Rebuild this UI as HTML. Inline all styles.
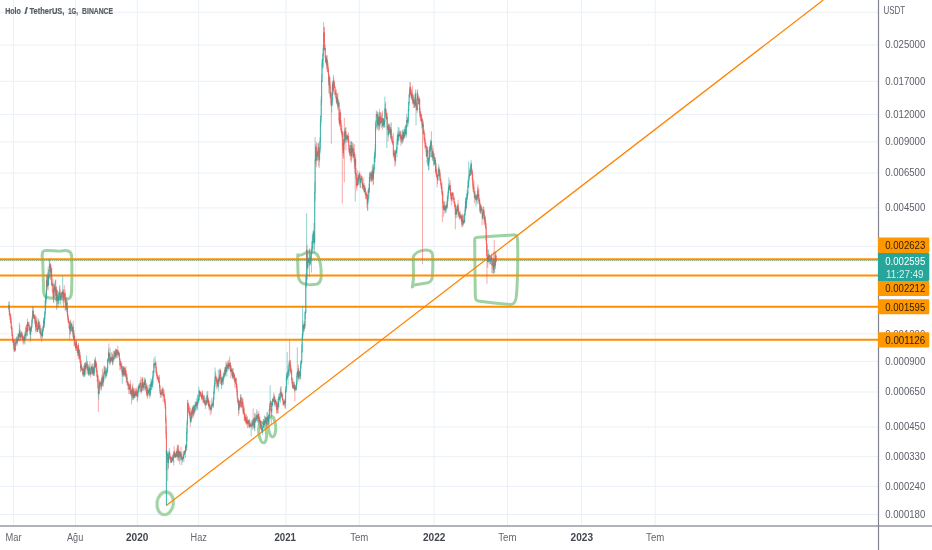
<!DOCTYPE html>
<html><head><meta charset="utf-8"><title>Holo / TetherUS</title>
<style>html,body{margin:0;padding:0;background:#fff;overflow:hidden}svg{display:block}</style>
</head><body>
<svg width="932" height="550" viewBox="0 0 932 550">
<rect width="932" height="550" fill="#fff"/>
<path d="M0 12.3H878.5M0 45H878.5M0 81.3H878.5M0 114.4H878.5M0 141.9H878.5M0 173H878.5M0 207.9H878.5M0 246.4H878.5M0 333.8H878.5M0 361.4H878.5M0 392H878.5M0 427H878.5M0 456.7H878.5M0 486.4H878.5M0 514.5H878.5M13.6 0V525.9M75.5 0V525.9M137.3 0V525.9M198.7 0V525.9M286 0V525.9M359.3 0V525.9M434.1 0V525.9M507.5 0V525.9M581.6 0V525.9M655.2 0V525.9" stroke="#eaf1f6" stroke-width="1" fill="none"/>
<g fill="none" stroke="#92cc96" stroke-width="3.0" stroke-linecap="round" stroke-linejoin="round" opacity="0.88">
<path d="M42.6 260 C41.5 254 42 250.6 46 250.6 C52 250.2 56 251.6 61 251 C66 250.2 71.5 250 71.6 256 C72 268 72 282 71.5 292 C71.4 298 69 299.6 65 299.3 C58 298.8 52 298.6 47.5 297.5 C43.5 296.8 43.6 293 43.5 288 C43.3 278 43 268 42.6 260Z"/>
<path d="M297.8 254.8 C300 256.2 303 254.5 306 252.8 C310 251.6 315 251.8 317.5 255 C320.5 260 321.3 268 321.2 276 C321.2 282 319 284.6 314 284.6 C309 284.8 305 284.6 302.5 283.2 C298.5 281.4 298 277 298 272 C297.8 266 297.6 260 297.8 254.8Z"/>
<path d="M413.2 257 C414.5 253.5 419 250.6 424 250.2 C428 249.8 432 250.6 432.6 255 C433 262 432.8 270 432.4 276 C432.2 280 431 282 428 282.8 C423 283.8 418 284.4 414 285 L412.2 287 C413.2 283 413.6 278 413.5 272 C413.4 266 413.2 261 413.2 257Z"/>
<path d="M474.7 240 C474.4 238 475.5 237.6 478 237.3 C490 236.6 503 235.6 513 234.9 C516.5 234.6 517.4 236 517.6 240 C518 256 517.8 276 516.6 294 C516.2 300 515 304.6 511 304.6 C500 303.6 488 302.2 478 301 C475.6 300.7 475.4 299 475.3 296 C475 278 474.8 258 474.7 240Z"/>
<ellipse cx="165.2" cy="503.3" rx="8.2" ry="11.4" stroke-width="3.1" transform="rotate(8 165.2 503.3)"/>
<ellipse cx="262.6" cy="432.6" rx="3.9" ry="10.3" transform="rotate(-6 262.6 432.6)"/>
<ellipse cx="272" cy="426.6" rx="3.7" ry="10.3" transform="rotate(-4 272 426.6)"/>
</g>
<path d="M0 275.6H878.5M0 306.8H878.5M0 339.7H878.5" stroke="#ff8e00" stroke-width="2.0" fill="none"/>
<path d="M0 259.3H878.5" stroke="#ff8e00" stroke-width="2.3" fill="none"/>
<path d="M166.3 505.5L823.3 0" stroke="#ff8400" stroke-width="1.25" fill="none"/>
<path d="M0 260.55H878.5" stroke="#26a69a" stroke-width="0.9" stroke-dasharray="1 1" opacity="0.55" fill="none"/>
<g fill="none">
<path d="M8.8 302V309.71" stroke="#26a69a" stroke-width="0.5"/>
<path d="M8.8 304.96V308.96" stroke="#26a69a" stroke-width="0.75"/>
<path d="M9.21 301.05V315.85M9.61 309.72V315.39M10.02 312.76V319.98M10.42 315.71V322.72M10.83 314.06V323.64M11.23 318.63V329.04M11.64 324.54V332.48M12.04 326.53V336.59M12.45 332.51V339.75M12.85 335.05V342.1M13.26 339.65V346.1" stroke="#ef5350" stroke-width="0.5"/>
<path d="M9.21 304.96V311.94M9.61 310.94V314.76M10.02 313.76V317.47M10.42 316.47V318.65M10.83 317.65V322.63M11.23 321.63V327.88M11.64 326.88V329.16M12.04 328.16V335.67M12.45 334.67V339.24M12.85 338.24V341.81M13.26 340.81V343.18" stroke="#ef5350" stroke-width="0.75"/>
<path d="M13.66 339.76V349.53" stroke="#26a69a" stroke-width="0.5"/>
<path d="M13.66 340.11V343.18" stroke="#26a69a" stroke-width="0.75"/>
<path d="M14.07 339.16V351.93M14.47 343.11V351.58M14.88 346.65V352.14" stroke="#ef5350" stroke-width="0.5"/>
<path d="M14.07 340.11V348.22M14.47 347.22V349.3M14.88 348.3V350.43" stroke="#ef5350" stroke-width="0.75"/>
<path d="M15.28 341.4V350.99M15.69 340.75V346.2" stroke="#26a69a" stroke-width="0.5"/>
<path d="M15.28 343.19V350.43M15.69 341.44V344.19" stroke="#26a69a" stroke-width="0.75"/>
<path d="M16.09 337.56V346.26" stroke="#ef5350" stroke-width="0.5"/>
<path d="M16.09 341.44V342.59" stroke="#ef5350" stroke-width="0.75"/>
<path d="M16.5 336.48V343.38" stroke="#26a69a" stroke-width="0.5"/>
<path d="M16.5 340.83V342.59" stroke="#26a69a" stroke-width="0.75"/>
<path d="M16.9 339.64V343.71" stroke="#ef5350" stroke-width="0.5"/>
<path d="M16.9 340.83V341.94" stroke="#ef5350" stroke-width="0.75"/>
<path d="M17.31 336.59V345.71M17.71 338.26V343.13M18.12 333.3V340.93" stroke="#26a69a" stroke-width="0.5"/>
<path d="M17.31 338.79V341.94M17.71 338.58V339.79M18.12 334.74V339.58" stroke="#26a69a" stroke-width="0.75"/>
<path d="M18.52 333.41V341.13" stroke="#ef5350" stroke-width="0.5"/>
<path d="M18.52 334.74V336.33" stroke="#ef5350" stroke-width="0.75"/>
<path d="M18.93 334.14V338.57M19.34 322.8V336.95" stroke="#26a69a" stroke-width="0.5"/>
<path d="M18.93 334.11V336.33M19.34 330.66V335.11" stroke="#26a69a" stroke-width="0.75"/>
<path d="M19.74 325.2V341.54" stroke="#ef5350" stroke-width="0.5"/>
<path d="M19.74 330.66V337.19" stroke="#ef5350" stroke-width="0.75"/>
<path d="M20.15 329.42V337.64" stroke="#26a69a" stroke-width="0.5"/>
<path d="M20.15 334.28V337.19" stroke="#26a69a" stroke-width="0.75"/>
<path d="M20.55 333.16V340.67" stroke="#ef5350" stroke-width="0.5"/>
<path d="M20.55 334.28V337.16" stroke="#ef5350" stroke-width="0.75"/>
<path d="M20.96 332.27V337.94" stroke="#26a69a" stroke-width="0.5"/>
<path d="M20.96 332.88V337.16" stroke="#26a69a" stroke-width="0.75"/>
<path d="M21.36 331.92V337.09M21.77 331.03V338.81M22.17 332.56V338.78M22.58 334.37V340.72M22.98 338.15V343.53" stroke="#ef5350" stroke-width="0.5"/>
<path d="M21.36 332.88V334.27M21.77 333.27V335.91M22.17 334.91V337.22M22.58 336.22V339.58M22.98 338.58V339.59" stroke="#ef5350" stroke-width="0.75"/>
<path d="M23.39 336.22V341.77M23.79 335.53V344.7M24.2 335.99V340.01" stroke="#26a69a" stroke-width="0.5"/>
<path d="M23.39 337.93V339.59M23.79 337.68V338.93M24.2 337.23V338.68" stroke="#26a69a" stroke-width="0.75"/>
<path d="M24.6 335.13V342.62" stroke="#ef5350" stroke-width="0.5"/>
<path d="M24.6 337.23V340.49" stroke="#ef5350" stroke-width="0.75"/>
<path d="M25.01 331.53V344.32" stroke="#26a69a" stroke-width="0.5"/>
<path d="M25.01 333.82V340.49" stroke="#26a69a" stroke-width="0.75"/>
<path d="M25.41 326.71V335.98" stroke="#ef5350" stroke-width="0.5"/>
<path d="M25.41 333.82V335.63" stroke="#ef5350" stroke-width="0.75"/>
<path d="M25.82 331.11V339.53M26.22 324.95V337.28" stroke="#26a69a" stroke-width="0.5"/>
<path d="M25.82 333.61V335.63M26.22 328.18V334.61" stroke="#26a69a" stroke-width="0.75"/>
<path d="M26.63 324.26V331.16M27.03 324.49V335.35" stroke="#ef5350" stroke-width="0.5"/>
<path d="M26.63 328.18V330.89M27.03 329.89V331.91" stroke="#ef5350" stroke-width="0.75"/>
<path d="M27.44 318.73V336.26" stroke="#26a69a" stroke-width="0.5"/>
<path d="M27.44 322.31V331.91" stroke="#26a69a" stroke-width="0.75"/>
<path d="M27.84 321.84V325.93M28.25 321.59V326.04" stroke="#ef5350" stroke-width="0.5"/>
<path d="M27.84 322.31V325.25M28.25 324.25V325.91" stroke="#ef5350" stroke-width="0.75"/>
<path d="M28.65 323.7V327.43" stroke="#26a69a" stroke-width="0.5"/>
<path d="M28.65 324.78V325.91" stroke="#26a69a" stroke-width="0.75"/>
<path d="M29.06 321.72V331.57M29.47 327.64V331.07" stroke="#ef5350" stroke-width="0.5"/>
<path d="M29.06 324.78V329.89M29.47 328.89V330.07" stroke="#ef5350" stroke-width="0.75"/>
<path d="M29.87 326.14V333.62" stroke="#26a69a" stroke-width="0.5"/>
<path d="M29.87 327.49V330.07" stroke="#26a69a" stroke-width="0.75"/>
<path d="M30.28 326.2V342.12" stroke="#ef5350" stroke-width="0.5"/>
<path d="M30.28 327.49V334.66" stroke="#ef5350" stroke-width="0.75"/>
<path d="M30.68 328.29V339.16M31.09 326.36V331.86M31.49 324.61V330.54M31.9 319.09V328.18M32.3 316.38V323.57M32.71 306.62V319.71" stroke="#26a69a" stroke-width="0.5"/>
<path d="M30.68 330.47V334.66M31.09 327.92V331.47M31.49 325.83V328.92M31.9 320.44V326.83M32.3 316.8V321.44M32.71 310.69V317.8" stroke="#26a69a" stroke-width="0.75"/>
<path d="M33.11 306.06V319.03" stroke="#ef5350" stroke-width="0.5"/>
<path d="M33.11 310.69V316.19" stroke="#ef5350" stroke-width="0.75"/>
<path d="M33.52 310.42V318.8" stroke="#26a69a" stroke-width="0.5"/>
<path d="M33.52 314.18V316.19" stroke="#26a69a" stroke-width="0.75"/>
<path d="M33.92 314.06V317.58" stroke="#ef5350" stroke-width="0.5"/>
<path d="M33.92 314.18V317.07" stroke="#ef5350" stroke-width="0.75"/>
<path d="M34.33 314.98V318.58" stroke="#26a69a" stroke-width="0.5"/>
<path d="M34.33 315.93V317.07" stroke="#26a69a" stroke-width="0.75"/>
<path d="M34.73 315.49V323.62M35.14 314.28V324.62M35.54 316.47V330.86" stroke="#ef5350" stroke-width="0.5"/>
<path d="M34.73 315.93V319.11M35.14 318.11V321.65M35.54 320.65V327.12" stroke="#ef5350" stroke-width="0.75"/>
<path d="M35.95 319.55V332.67" stroke="#26a69a" stroke-width="0.5"/>
<path d="M35.95 320.79V327.12" stroke="#26a69a" stroke-width="0.75"/>
<path d="M36.35 316.38V325.79M36.76 321.61V330.23M37.16 327.62V331.81" stroke="#ef5350" stroke-width="0.5"/>
<path d="M36.35 320.79V324.63M36.76 323.63V329.57M37.16 328.57V331.9" stroke="#ef5350" stroke-width="0.75"/>
<path d="M37.57 325.7V332.22M37.97 318V330.5M38.38 319.43V328.86" stroke="#26a69a" stroke-width="0.5"/>
<path d="M37.57 328.88V331.9M37.97 323.47V329.88M38.38 321.97V324.47" stroke="#26a69a" stroke-width="0.75"/>
<path d="M38.78 320.39V329.61" stroke="#ef5350" stroke-width="0.5"/>
<path d="M38.78 321.97V328.81" stroke="#ef5350" stroke-width="0.75"/>
<path d="M39.19 321.52V329.73" stroke="#26a69a" stroke-width="0.5"/>
<path d="M39.19 325.31V328.81" stroke="#26a69a" stroke-width="0.75"/>
<path d="M39.6 321.79V332.98M40 324.28V333.26M40.41 328.54V338.5" stroke="#ef5350" stroke-width="0.5"/>
<path d="M39.6 325.31V326.48M40 325.48V332.3M40.41 331.3V333.98" stroke="#ef5350" stroke-width="0.75"/>
<path d="M40.81 328.02V334.57" stroke="#26a69a" stroke-width="0.5"/>
<path d="M40.81 332.42V333.98" stroke="#26a69a" stroke-width="0.75"/>
<path d="M41.22 329.32V336.52M41.62 332.85V342M42.03 327.62V336.38" stroke="#ef5350" stroke-width="0.5"/>
<path d="M41.22 332.42V335.02M41.62 334.02V335.81M42.03 334.81V336.22" stroke="#ef5350" stroke-width="0.75"/>
<path d="M42.43 329.95V338.55M42.84 325.96V335.81M43.24 324.57V332.06M43.65 317.73V328.6" stroke="#26a69a" stroke-width="0.5"/>
<path d="M42.43 331.14V336.22M42.84 328.91V332.14M43.24 326.94V329.91M43.65 320.47V327.94" stroke="#26a69a" stroke-width="0.75"/>
<path d="M44.05 317.63V327.95" stroke="#ef5350" stroke-width="0.5"/>
<path d="M44.05 320.47V323.86" stroke="#ef5350" stroke-width="0.75"/>
<path d="M44.46 314.3V326.83M44.86 310.9V320.63M45.27 299.96V314.96M45.67 295.51V310.25M46.08 290.79V304.46M46.48 274.8V300.06" stroke="#26a69a" stroke-width="0.5"/>
<path d="M44.46 317.64V323.86M44.86 312.21V318.64M45.27 300.34V313.21M45.67 297.11V301.34M46.08 294.06V298.11M46.48 280.31V295.06" stroke="#26a69a" stroke-width="0.75"/>
<path d="M46.89 274.54V291.26M47.29 280.69V286.66" stroke="#ef5350" stroke-width="0.5"/>
<path d="M46.89 280.31V283.83M47.29 282.83V286.1" stroke="#ef5350" stroke-width="0.75"/>
<path d="M47.7 272.56V288.74" stroke="#26a69a" stroke-width="0.5"/>
<path d="M47.7 276.23V286.1" stroke="#26a69a" stroke-width="0.75"/>
<path d="M48.1 266.93V290.65" stroke="#ef5350" stroke-width="0.5"/>
<path d="M48.1 276.23V284.91" stroke="#ef5350" stroke-width="0.75"/>
<path d="M48.51 274.89V285.98M48.91 269.55V279.56M49.32 258.62V278.52M49.73 259.3V267.54" stroke="#26a69a" stroke-width="0.5"/>
<path d="M48.51 277.16V284.91M48.91 269.78V278.16M49.32 266.1V270.78M49.73 264.4V267.1" stroke="#26a69a" stroke-width="0.75"/>
<path d="M50.13 264.32V269.08M50.54 263.03V280.17" stroke="#ef5350" stroke-width="0.5"/>
<path d="M50.13 264.4V266.51M50.54 265.51V272.51" stroke="#ef5350" stroke-width="0.75"/>
<path d="M50.94 264.35V277.42" stroke="#26a69a" stroke-width="0.5"/>
<path d="M50.94 268.8V272.51" stroke="#26a69a" stroke-width="0.75"/>
<path d="M51.35 267.93V285.6M51.75 267.16V285.17M52.16 281.39V292.01" stroke="#ef5350" stroke-width="0.5"/>
<path d="M51.35 268.8V275.33M51.75 274.33V284.68M52.16 283.68V285.92" stroke="#ef5350" stroke-width="0.75"/>
<path d="M52.56 283.25V285.89" stroke="#26a69a" stroke-width="0.5"/>
<path d="M52.56 284.5V285.92" stroke="#26a69a" stroke-width="0.75"/>
<path d="M52.97 278.82V297.07M53.37 288.56V302.3" stroke="#ef5350" stroke-width="0.5"/>
<path d="M52.97 284.5V293.68M53.37 292.68V297.75" stroke="#ef5350" stroke-width="0.75"/>
<path d="M53.78 283.76V303.26M54.18 283.51V293.06" stroke="#26a69a" stroke-width="0.5"/>
<path d="M53.78 290.16V297.75M54.18 286.43V291.16" stroke="#26a69a" stroke-width="0.75"/>
<path d="M54.59 284.22V298.01" stroke="#ef5350" stroke-width="0.5"/>
<path d="M54.59 286.43V290.56" stroke="#ef5350" stroke-width="0.75"/>
<path d="M54.99 281.26V291.49M55.4 279.93V293.38" stroke="#26a69a" stroke-width="0.5"/>
<path d="M54.99 288.72V290.56M55.4 287.47V289.72" stroke="#26a69a" stroke-width="0.75"/>
<path d="M55.8 279.49V301.67" stroke="#ef5350" stroke-width="0.5"/>
<path d="M55.8 287.47V296.29" stroke="#ef5350" stroke-width="0.75"/>
<path d="M56.21 286.7V296.73" stroke="#26a69a" stroke-width="0.5"/>
<path d="M56.21 290.1V296.29" stroke="#26a69a" stroke-width="0.75"/>
<path d="M56.61 286.81V309.94" stroke="#ef5350" stroke-width="0.5"/>
<path d="M56.61 290.1V300.78" stroke="#ef5350" stroke-width="0.75"/>
<path d="M57.02 290.78V308.41" stroke="#26a69a" stroke-width="0.5"/>
<path d="M57.02 294.29V300.78" stroke="#26a69a" stroke-width="0.75"/>
<path d="M57.42 289.76V304.13M57.83 295.87V302.09" stroke="#ef5350" stroke-width="0.5"/>
<path d="M57.42 294.29V297.93M57.83 296.93V300.48" stroke="#ef5350" stroke-width="0.75"/>
<path d="M58.23 297.2V306.72M58.64 291.53V303.84M59.04 292.26V304.24M59.45 286.62V297.47" stroke="#26a69a" stroke-width="0.5"/>
<path d="M58.23 299.13V300.48M58.64 296.36V300.13M59.04 292.82V297.36M59.45 292.7V293.82" stroke="#26a69a" stroke-width="0.75"/>
<path d="M59.86 284.96V299.91M60.26 289.48V299.84" stroke="#ef5350" stroke-width="0.5"/>
<path d="M59.86 292.7V295.76M60.26 294.76V299.11" stroke="#ef5350" stroke-width="0.75"/>
<path d="M60.67 293.76V304.82M61.07 292.5V299.95M61.48 292.02V297.24M61.88 291.74V299.08" stroke="#26a69a" stroke-width="0.5"/>
<path d="M60.67 296.34V299.11M61.07 296.3V297.34M61.48 295.75V297.3M61.88 292.48V296.75" stroke="#26a69a" stroke-width="0.75"/>
<path d="M62.29 291.85V294.5" stroke="#ef5350" stroke-width="0.5"/>
<path d="M62.29 292.48V294.41" stroke="#ef5350" stroke-width="0.75"/>
<path d="M62.69 276V297.81" stroke="#26a69a" stroke-width="0.5"/>
<path d="M62.69 291.31V294.41" stroke="#26a69a" stroke-width="0.75"/>
<path d="M63.1 289.59V303.3" stroke="#ef5350" stroke-width="0.5"/>
<path d="M63.1 291.31V298.37" stroke="#ef5350" stroke-width="0.75"/>
<path d="M63.5 289.28V307.66M63.91 292.25V296.88" stroke="#26a69a" stroke-width="0.5"/>
<path d="M63.5 293.64V298.37M63.91 292.84V294.64" stroke="#26a69a" stroke-width="0.75"/>
<path d="M64.31 285.22V298.61M64.72 293.21V299.17M65.12 289.85V310.31" stroke="#ef5350" stroke-width="0.5"/>
<path d="M64.31 292.84V295.59M64.72 294.59V298.36M65.12 297.36V302.98" stroke="#ef5350" stroke-width="0.75"/>
<path d="M65.53 293.13V310.8" stroke="#26a69a" stroke-width="0.5"/>
<path d="M65.53 299.67V302.98" stroke="#26a69a" stroke-width="0.75"/>
<path d="M65.93 296.85V305.95M66.34 303.45V309.95" stroke="#ef5350" stroke-width="0.5"/>
<path d="M65.93 299.67V304.61M66.34 303.61V309.09" stroke="#ef5350" stroke-width="0.75"/>
<path d="M66.74 296.82V312.3" stroke="#26a69a" stroke-width="0.5"/>
<path d="M66.74 302.37V309.09" stroke="#26a69a" stroke-width="0.75"/>
<path d="M67.15 300.76V315.14M67.55 306.73V317.83M67.96 314.13V321.79M68.36 316.67V323.22M68.77 319.4V323.27M69.17 321.52V328.65M69.58 321.39V339.6" stroke="#ef5350" stroke-width="0.5"/>
<path d="M67.15 302.37V309.92M67.55 308.92V316.31M67.96 315.31V319.48M68.36 318.48V321.89M68.77 320.89V323.24M69.17 322.24V328.27M69.58 327.27V329.38" stroke="#ef5350" stroke-width="0.75"/>
<path d="M69.99 321.42V333.67" stroke="#26a69a" stroke-width="0.5"/>
<path d="M69.99 325.1V329.38" stroke="#26a69a" stroke-width="0.75"/>
<path d="M70.39 319.43V334.64" stroke="#ef5350" stroke-width="0.5"/>
<path d="M70.39 325.1V330.71" stroke="#ef5350" stroke-width="0.75"/>
<path d="M70.8 320.63V331.8M71.2 322.9V325.64" stroke="#26a69a" stroke-width="0.5"/>
<path d="M70.8 323.76V330.71M71.2 323.73V324.76" stroke="#26a69a" stroke-width="0.75"/>
<path d="M71.61 323.08V331.25M72.01 326.47V331.92M72.42 327.09V333.61" stroke="#ef5350" stroke-width="0.5"/>
<path d="M71.61 323.73V327.61M72.01 326.61V329.26M72.42 328.26V331.52" stroke="#ef5350" stroke-width="0.75"/>
<path d="M72.82 324.54V337.35" stroke="#26a69a" stroke-width="0.5"/>
<path d="M72.82 326.85V331.52" stroke="#26a69a" stroke-width="0.75"/>
<path d="M73.23 320.79V336.55M73.63 331.21V339.84" stroke="#ef5350" stroke-width="0.5"/>
<path d="M73.23 326.85V334.47M73.63 333.47V339.52" stroke="#ef5350" stroke-width="0.75"/>
<path d="M74.04 330.08V346.05" stroke="#26a69a" stroke-width="0.5"/>
<path d="M74.04 335.86V339.52" stroke="#26a69a" stroke-width="0.75"/>
<path d="M74.44 333.48V342.22M74.85 339.28V346.6M75.25 342.87V347.7M75.66 343.06V351.05" stroke="#ef5350" stroke-width="0.5"/>
<path d="M74.44 335.86V341.09M74.85 340.09V344.56M75.25 343.56V345.59M75.66 344.59V348.16" stroke="#ef5350" stroke-width="0.75"/>
<path d="M76.06 339.65V349.1" stroke="#26a69a" stroke-width="0.5"/>
<path d="M76.06 341.69V348.16" stroke="#26a69a" stroke-width="0.75"/>
<path d="M76.47 339.34V350.91M76.87 344.79V348.42M77.28 346.5V353.13M77.68 348.84V356.29" stroke="#ef5350" stroke-width="0.5"/>
<path d="M76.47 341.69V346.75M76.87 345.75V347.95M77.28 346.95V351.08M77.68 350.08V353.16" stroke="#ef5350" stroke-width="0.75"/>
<path d="M78.09 344.24V355.78" stroke="#26a69a" stroke-width="0.5"/>
<path d="M78.09 345.33V353.16" stroke="#26a69a" stroke-width="0.75"/>
<path d="M78.49 343.1V358.97" stroke="#ef5350" stroke-width="0.5"/>
<path d="M78.49 345.33V355.35" stroke="#ef5350" stroke-width="0.75"/>
<path d="M78.9 349.07V355.57" stroke="#26a69a" stroke-width="0.5"/>
<path d="M78.9 350.12V355.35" stroke="#26a69a" stroke-width="0.75"/>
<path d="M79.3 348.6V360.13" stroke="#ef5350" stroke-width="0.5"/>
<path d="M79.3 350.12V357.7" stroke="#ef5350" stroke-width="0.75"/>
<path d="M79.71 354.25V358.87" stroke="#26a69a" stroke-width="0.5"/>
<path d="M79.71 355.24V357.7" stroke="#26a69a" stroke-width="0.75"/>
<path d="M80.12 351.58V363.43M80.52 358.09V371.75" stroke="#ef5350" stroke-width="0.5"/>
<path d="M80.12 355.24V362.85M80.52 361.85V368.1" stroke="#ef5350" stroke-width="0.75"/>
<path d="M80.93 363.78V371.97" stroke="#26a69a" stroke-width="0.5"/>
<path d="M80.93 365.54V368.1" stroke="#26a69a" stroke-width="0.75"/>
<path d="M81.33 360.36V370.07M81.74 363.73V370.23" stroke="#ef5350" stroke-width="0.5"/>
<path d="M81.33 365.54V368.06M81.74 367.06V370.15" stroke="#ef5350" stroke-width="0.75"/>
<path d="M82.14 366.88V370.35" stroke="#26a69a" stroke-width="0.5"/>
<path d="M82.14 368.58V370.15" stroke="#26a69a" stroke-width="0.75"/>
<path d="M82.55 368.76V374.69M82.95 368.53V376.12" stroke="#ef5350" stroke-width="0.5"/>
<path d="M82.55 368.58V369.91M82.95 368.91V374.12" stroke="#ef5350" stroke-width="0.75"/>
<path d="M83.36 369.45V377M83.76 365.87V376.31" stroke="#26a69a" stroke-width="0.5"/>
<path d="M83.36 372.28V374.12M83.76 368.63V373.28" stroke="#26a69a" stroke-width="0.75"/>
<path d="M84.17 365.34V375.24" stroke="#ef5350" stroke-width="0.5"/>
<path d="M84.17 368.63V375.18" stroke="#ef5350" stroke-width="0.75"/>
<path d="M84.57 363.09V377.35" stroke="#26a69a" stroke-width="0.5"/>
<path d="M84.57 365.17V375.18" stroke="#26a69a" stroke-width="0.75"/>
<path d="M84.98 362.73V372.4" stroke="#ef5350" stroke-width="0.5"/>
<path d="M84.98 365.17V369.67" stroke="#ef5350" stroke-width="0.75"/>
<path d="M85.38 361.83V375.44M85.79 362.51V368.58M86.19 363.55V367.38M86.6 355.4V367.6" stroke="#26a69a" stroke-width="0.5"/>
<path d="M85.38 364.85V369.67M85.79 364.13V365.85M86.19 363.78V365.13M86.6 363.61V364.78" stroke="#26a69a" stroke-width="0.75"/>
<path d="M87 361.69V373.9" stroke="#ef5350" stroke-width="0.5"/>
<path d="M87 363.61V368.86" stroke="#ef5350" stroke-width="0.75"/>
<path d="M87.41 360.73V370.4" stroke="#26a69a" stroke-width="0.5"/>
<path d="M87.41 366.67V368.86" stroke="#26a69a" stroke-width="0.75"/>
<path d="M87.81 364.9V371.77M88.22 366.3V375.38" stroke="#ef5350" stroke-width="0.5"/>
<path d="M87.81 366.67V370.03M88.22 369.03V374.15" stroke="#ef5350" stroke-width="0.75"/>
<path d="M88.62 364.42V375.3M89.03 367.1V375.53M89.43 366.44V371.54" stroke="#26a69a" stroke-width="0.5"/>
<path d="M88.62 369.5V374.15M89.03 369.02V370.5M89.43 367.75V370.02" stroke="#26a69a" stroke-width="0.75"/>
<path d="M89.84 361.36V375.84" stroke="#ef5350" stroke-width="0.5"/>
<path d="M89.84 367.75V374.16" stroke="#ef5350" stroke-width="0.75"/>
<path d="M90.25 368.8V374.41" stroke="#26a69a" stroke-width="0.5"/>
<path d="M90.25 371.72V374.16" stroke="#26a69a" stroke-width="0.75"/>
<path d="M90.65 370.57V377.51" stroke="#ef5350" stroke-width="0.5"/>
<path d="M90.65 371.72V373.91" stroke="#ef5350" stroke-width="0.75"/>
<path d="M91.06 364.3V375.1" stroke="#26a69a" stroke-width="0.5"/>
<path d="M91.06 367.5V373.91" stroke="#26a69a" stroke-width="0.75"/>
<path d="M91.46 366.17V370.3" stroke="#ef5350" stroke-width="0.5"/>
<path d="M91.46 367.5V370.14" stroke="#ef5350" stroke-width="0.75"/>
<path d="M91.87 366.09V372.71" stroke="#26a69a" stroke-width="0.5"/>
<path d="M91.87 366.77V370.14" stroke="#26a69a" stroke-width="0.75"/>
<path d="M92.27 363.4V373.93M92.68 367.44V375.38" stroke="#ef5350" stroke-width="0.5"/>
<path d="M92.27 366.77V371.85M92.68 370.85V373.65" stroke="#ef5350" stroke-width="0.75"/>
<path d="M93.08 363.79V374.76" stroke="#26a69a" stroke-width="0.5"/>
<path d="M93.08 367.52V373.65" stroke="#26a69a" stroke-width="0.75"/>
<path d="M93.49 366.74V375.94" stroke="#ef5350" stroke-width="0.5"/>
<path d="M93.49 367.52V373.74" stroke="#ef5350" stroke-width="0.75"/>
<path d="M93.89 368.19V376.09M94.3 364.71V373.41M94.7 358.71V375.76" stroke="#26a69a" stroke-width="0.5"/>
<path d="M93.89 370.66V373.74M94.3 366.28V371.66M94.7 360.58V367.28" stroke="#26a69a" stroke-width="0.75"/>
<path d="M95.11 359.34V367.84" stroke="#ef5350" stroke-width="0.5"/>
<path d="M95.11 360.58V366.75" stroke="#ef5350" stroke-width="0.75"/>
<path d="M95.51 356.7V368.12" stroke="#26a69a" stroke-width="0.5"/>
<path d="M95.51 361.96V366.75" stroke="#26a69a" stroke-width="0.75"/>
<path d="M95.92 360.35V365.92M96.32 362.13V371.98M96.73 364.34V375.88M97.13 370.4V382.04" stroke="#ef5350" stroke-width="0.5"/>
<path d="M95.92 361.96V364.65M96.32 363.65V369.51M96.73 368.51V372.28M97.13 371.28V377.32" stroke="#ef5350" stroke-width="0.75"/>
<path d="M97.54 374.96V381.27" stroke="#26a69a" stroke-width="0.5"/>
<path d="M97.54 375.78V377.32" stroke="#26a69a" stroke-width="0.75"/>
<path d="M97.94 374.17V388.7M98.35 378.95V412" stroke="#ef5350" stroke-width="0.5"/>
<path d="M97.94 375.78V387.46M98.35 386.46V394.35" stroke="#ef5350" stroke-width="0.75"/>
<path d="M98.75 390.8V399.62M99.16 382.56V393.95M99.56 379.71V389.28" stroke="#26a69a" stroke-width="0.5"/>
<path d="M98.75 391.92V394.35M99.16 386.06V392.92M99.56 382.45V387.06" stroke="#26a69a" stroke-width="0.75"/>
<path d="M99.97 381.26V390.24" stroke="#ef5350" stroke-width="0.5"/>
<path d="M99.97 382.45V385.17" stroke="#ef5350" stroke-width="0.75"/>
<path d="M100.38 381.71V387.27" stroke="#26a69a" stroke-width="0.5"/>
<path d="M100.38 382.48V385.17" stroke="#26a69a" stroke-width="0.75"/>
<path d="M100.78 381.63V384.08M101.19 379.49V390.84" stroke="#ef5350" stroke-width="0.5"/>
<path d="M100.78 382.48V383.7M101.19 382.7V386.63" stroke="#ef5350" stroke-width="0.75"/>
<path d="M101.59 377.17V389.11M102 374.77V384.98" stroke="#26a69a" stroke-width="0.5"/>
<path d="M101.59 382.29V386.63M102 378.22V383.29" stroke="#26a69a" stroke-width="0.75"/>
<path d="M102.4 368.62V385.99" stroke="#ef5350" stroke-width="0.5"/>
<path d="M102.4 378.22V383.44" stroke="#ef5350" stroke-width="0.75"/>
<path d="M102.81 376.1V386.31" stroke="#26a69a" stroke-width="0.5"/>
<path d="M102.81 377.33V383.44" stroke="#26a69a" stroke-width="0.75"/>
<path d="M103.21 373.24V386.57" stroke="#ef5350" stroke-width="0.5"/>
<path d="M103.21 377.33V381.19" stroke="#ef5350" stroke-width="0.75"/>
<path d="M103.62 374.15V382.94M104.02 366.01V380.13M104.43 366.85V373.96" stroke="#26a69a" stroke-width="0.5"/>
<path d="M103.62 376.38V381.19M104.02 371.68V377.38M104.43 370.42V372.68" stroke="#26a69a" stroke-width="0.75"/>
<path d="M104.83 365.66V374.7" stroke="#ef5350" stroke-width="0.5"/>
<path d="M104.83 370.42V373.81" stroke="#ef5350" stroke-width="0.75"/>
<path d="M105.24 366.94V374.31" stroke="#26a69a" stroke-width="0.5"/>
<path d="M105.24 371.85V373.81" stroke="#26a69a" stroke-width="0.75"/>
<path d="M105.64 368.26V379.07" stroke="#ef5350" stroke-width="0.5"/>
<path d="M105.64 371.85V376.09" stroke="#ef5350" stroke-width="0.75"/>
<path d="M106.05 370.77V377.84M106.45 369.48V373.84M106.86 367.88V376.39M107.26 366.94V372.19M107.67 358.36V372.65" stroke="#26a69a" stroke-width="0.5"/>
<path d="M106.05 372.79V376.09M106.45 372.49V373.79M106.86 370.34V373.49M107.26 367.5V371.34M107.67 359.61V368.5" stroke="#26a69a" stroke-width="0.75"/>
<path d="M108.07 357.82V363.58" stroke="#ef5350" stroke-width="0.5"/>
<path d="M108.07 359.61V360.77" stroke="#ef5350" stroke-width="0.75"/>
<path d="M108.48 349V361.54" stroke="#26a69a" stroke-width="0.5"/>
<path d="M108.48 352.63V360.77" stroke="#26a69a" stroke-width="0.75"/>
<path d="M108.88 343.49V357.94" stroke="#ef5350" stroke-width="0.5"/>
<path d="M108.88 352.63V356.12" stroke="#ef5350" stroke-width="0.75"/>
<path d="M109.29 353.02V357.04" stroke="#26a69a" stroke-width="0.5"/>
<path d="M109.29 354.11V356.12" stroke="#26a69a" stroke-width="0.75"/>
<path d="M109.69 352.22V364.26" stroke="#ef5350" stroke-width="0.5"/>
<path d="M109.69 354.11V362.31" stroke="#ef5350" stroke-width="0.75"/>
<path d="M110.1 347.7V365.31" stroke="#26a69a" stroke-width="0.5"/>
<path d="M110.1 357.31V362.31" stroke="#26a69a" stroke-width="0.75"/>
<path d="M110.51 356.85V363.11" stroke="#ef5350" stroke-width="0.5"/>
<path d="M110.51 357.31V360.77" stroke="#ef5350" stroke-width="0.75"/>
<path d="M110.91 358.14V362.57M111.32 356.94V361.03M111.72 352V361.94" stroke="#26a69a" stroke-width="0.5"/>
<path d="M110.91 358.99V360.77M111.32 358.92V359.99M111.72 357.34V359.92" stroke="#26a69a" stroke-width="0.75"/>
<path d="M112.13 353.98V360.87M112.53 353.87V365.08" stroke="#ef5350" stroke-width="0.5"/>
<path d="M112.13 357.34V359.66M112.53 358.66V362.53" stroke="#ef5350" stroke-width="0.75"/>
<path d="M112.94 356.17V365.23" stroke="#26a69a" stroke-width="0.5"/>
<path d="M112.94 357.39V362.53" stroke="#26a69a" stroke-width="0.75"/>
<path d="M113.34 350.97V358.84M113.75 357.62V360.96" stroke="#ef5350" stroke-width="0.5"/>
<path d="M113.34 357.39V358.82M113.75 357.82V359.22" stroke="#ef5350" stroke-width="0.75"/>
<path d="M114.15 350.39V359.59M114.56 350.85V357.42" stroke="#26a69a" stroke-width="0.5"/>
<path d="M114.15 355.11V359.22M114.56 352.29V356.11" stroke="#26a69a" stroke-width="0.75"/>
<path d="M114.96 351.16V354.54M115.37 352.49V357.84" stroke="#ef5350" stroke-width="0.5"/>
<path d="M114.96 352.29V354.17M115.37 353.17V357" stroke="#ef5350" stroke-width="0.75"/>
<path d="M115.77 348.36V358.79" stroke="#26a69a" stroke-width="0.5"/>
<path d="M115.77 349.61V357" stroke="#26a69a" stroke-width="0.75"/>
<path d="M116.18 349.55V352.75M116.58 348.92V358.26" stroke="#ef5350" stroke-width="0.5"/>
<path d="M116.18 349.61V352.13M116.58 351.13V354.81" stroke="#ef5350" stroke-width="0.75"/>
<path d="M116.99 352.05V356.01M117.39 349.83V355.31" stroke="#26a69a" stroke-width="0.5"/>
<path d="M116.99 352.67V354.81M117.39 350.34V353.67" stroke="#26a69a" stroke-width="0.75"/>
<path d="M117.8 345.59V357.96M118.2 350.24V353.99" stroke="#ef5350" stroke-width="0.5"/>
<path d="M117.8 350.34V353.07M118.2 352.07V354.1" stroke="#ef5350" stroke-width="0.75"/>
<path d="M118.61 352.21V355.98" stroke="#26a69a" stroke-width="0.5"/>
<path d="M118.61 352.66V354.1" stroke="#26a69a" stroke-width="0.75"/>
<path d="M119.01 351.29V356.59M119.42 353.02V360.8M119.82 357.71V370.34" stroke="#ef5350" stroke-width="0.5"/>
<path d="M119.01 352.66V355.22M119.42 354.22V359.54M119.82 358.54V365.2" stroke="#ef5350" stroke-width="0.75"/>
<path d="M120.23 360.85V365.98" stroke="#26a69a" stroke-width="0.5"/>
<path d="M120.23 362.87V365.2" stroke="#26a69a" stroke-width="0.75"/>
<path d="M120.64 360.68V369.49M121.04 361.21V368.97M121.45 365.69V367.61M121.85 362.78V374.72" stroke="#ef5350" stroke-width="0.5"/>
<path d="M120.64 362.87V364.83M121.04 363.83V366.78M121.45 365.78V366.85M121.85 365.85V371.49" stroke="#ef5350" stroke-width="0.75"/>
<path d="M122.26 366.11V383.8" stroke="#26a69a" stroke-width="0.5"/>
<path d="M122.26 369.93V371.49" stroke="#26a69a" stroke-width="0.75"/>
<path d="M122.66 368.64V376.5" stroke="#ef5350" stroke-width="0.5"/>
<path d="M122.66 369.93V374.59" stroke="#ef5350" stroke-width="0.75"/>
<path d="M123.07 366.02V377.34" stroke="#26a69a" stroke-width="0.5"/>
<path d="M123.07 367.61V374.59" stroke="#26a69a" stroke-width="0.75"/>
<path d="M123.47 366.26V376.11" stroke="#ef5350" stroke-width="0.5"/>
<path d="M123.47 367.61V373.99" stroke="#ef5350" stroke-width="0.75"/>
<path d="M123.88 369.66V375.45M124.28 367.45V375.76" stroke="#26a69a" stroke-width="0.5"/>
<path d="M123.88 370.69V373.99M124.28 367.7V371.69" stroke="#26a69a" stroke-width="0.75"/>
<path d="M124.69 366.57V376.88" stroke="#ef5350" stroke-width="0.5"/>
<path d="M124.69 367.7V375.07" stroke="#ef5350" stroke-width="0.75"/>
<path d="M125.09 371V375.47M125.5 368.18V377.09" stroke="#26a69a" stroke-width="0.5"/>
<path d="M125.09 373.17V375.07M125.5 370.27V374.17" stroke="#26a69a" stroke-width="0.75"/>
<path d="M125.9 366.42V376.74M126.31 371.94V382.83" stroke="#ef5350" stroke-width="0.5"/>
<path d="M125.9 370.27V375.31M126.31 374.31V378.96" stroke="#ef5350" stroke-width="0.75"/>
<path d="M126.71 375.54V381.71" stroke="#26a69a" stroke-width="0.5"/>
<path d="M126.71 377.59V378.96" stroke="#26a69a" stroke-width="0.75"/>
<path d="M127.12 373.97V385.99M127.52 381.44V384.7M127.93 382.71V389.68M128.33 381.2V386.2M128.74 383.79V393.98" stroke="#ef5350" stroke-width="0.5"/>
<path d="M127.12 377.59V382.42M127.52 381.42V383.66M127.93 382.66V384.79M128.33 383.79V385.38M128.74 384.38V388.8" stroke="#ef5350" stroke-width="0.75"/>
<path d="M129.14 383.94V390.01" stroke="#26a69a" stroke-width="0.5"/>
<path d="M129.14 387.69V388.8" stroke="#26a69a" stroke-width="0.75"/>
<path d="M129.55 386.49V389.98" stroke="#ef5350" stroke-width="0.5"/>
<path d="M129.55 387.69V389.55" stroke="#ef5350" stroke-width="0.75"/>
<path d="M129.95 383.09V394.47" stroke="#26a69a" stroke-width="0.5"/>
<path d="M129.95 384.53V389.55" stroke="#26a69a" stroke-width="0.75"/>
<path d="M130.36 380.17V393.64M130.77 389.47V394.79" stroke="#ef5350" stroke-width="0.5"/>
<path d="M130.36 384.53V392.74M130.77 391.74V394.01" stroke="#ef5350" stroke-width="0.75"/>
<path d="M131.17 389.28V395.57" stroke="#26a69a" stroke-width="0.5"/>
<path d="M131.17 390.05V394.01" stroke="#26a69a" stroke-width="0.75"/>
<path d="M131.58 390.09V404.4M131.98 387.63V398.04" stroke="#ef5350" stroke-width="0.5"/>
<path d="M131.58 390.05V391.05M131.98 390.05V396.32" stroke="#ef5350" stroke-width="0.75"/>
<path d="M132.39 385.28V400.06" stroke="#26a69a" stroke-width="0.5"/>
<path d="M132.39 387.77V396.32" stroke="#26a69a" stroke-width="0.75"/>
<path d="M132.79 383.45V395.47M133.2 389.75V400.23" stroke="#ef5350" stroke-width="0.5"/>
<path d="M132.79 387.77V393.66M133.2 392.66V397.97" stroke="#ef5350" stroke-width="0.75"/>
<path d="M133.6 388.17V399.52" stroke="#26a69a" stroke-width="0.5"/>
<path d="M133.6 390.14V397.97" stroke="#26a69a" stroke-width="0.75"/>
<path d="M134.01 388.17V395.87M134.41 392.53V397.9" stroke="#ef5350" stroke-width="0.5"/>
<path d="M134.01 390.14V394.75M134.41 393.75V397.42" stroke="#ef5350" stroke-width="0.75"/>
<path d="M134.82 391.44V398.47" stroke="#26a69a" stroke-width="0.5"/>
<path d="M134.82 392.37V397.42" stroke="#26a69a" stroke-width="0.75"/>
<path d="M135.22 388.05V395.21M135.63 390.69V396.15" stroke="#ef5350" stroke-width="0.5"/>
<path d="M135.22 392.37V394.96M135.63 393.96V395.84" stroke="#ef5350" stroke-width="0.75"/>
<path d="M136.03 389.4V396.35" stroke="#26a69a" stroke-width="0.5"/>
<path d="M136.03 391.2V395.84" stroke="#26a69a" stroke-width="0.75"/>
<path d="M136.44 387.77V396.1M136.84 392.05V396.54M137.25 389.43V401.8" stroke="#ef5350" stroke-width="0.5"/>
<path d="M136.44 391.2V394.07M136.84 393.07V395.03M137.25 394.03V396.31" stroke="#ef5350" stroke-width="0.75"/>
<path d="M137.65 390.09V400.27M138.06 387.36V397.2M138.46 385.14V392.39M138.87 383.76V389.7" stroke="#26a69a" stroke-width="0.5"/>
<path d="M137.65 391.96V396.31M138.06 389.84V392.96M138.46 386.32V390.84M138.87 385.91V387.32" stroke="#26a69a" stroke-width="0.75"/>
<path d="M139.27 385.93V388.79" stroke="#ef5350" stroke-width="0.5"/>
<path d="M139.27 385.91V388.06" stroke="#ef5350" stroke-width="0.75"/>
<path d="M139.68 383.42V392.01M140.08 380.2V386.36M140.49 382.42V384.58" stroke="#26a69a" stroke-width="0.5"/>
<path d="M139.68 385.32V388.06M140.08 383.24V386.32M140.49 383.19V384.24" stroke="#26a69a" stroke-width="0.75"/>
<path d="M140.9 376.57V393.84" stroke="#ef5350" stroke-width="0.5"/>
<path d="M140.9 383.19V391.48" stroke="#ef5350" stroke-width="0.75"/>
<path d="M141.3 385.29V391.94M141.71 383.22V392.56M142.11 377.88V391.33" stroke="#26a69a" stroke-width="0.5"/>
<path d="M141.3 387.2V391.48M141.71 386.07V388.2M142.11 379.21V387.07" stroke="#26a69a" stroke-width="0.75"/>
<path d="M142.52 377V390.09" stroke="#ef5350" stroke-width="0.5"/>
<path d="M142.52 379.21V386.75" stroke="#ef5350" stroke-width="0.75"/>
<path d="M142.92 383.71V387.54" stroke="#26a69a" stroke-width="0.5"/>
<path d="M142.92 384.9V386.75" stroke="#26a69a" stroke-width="0.75"/>
<path d="M143.33 382.72V388.67" stroke="#ef5350" stroke-width="0.5"/>
<path d="M143.33 384.9V387.87" stroke="#ef5350" stroke-width="0.75"/>
<path d="M143.73 381.92V390.93M144.14 377.13V390.14" stroke="#26a69a" stroke-width="0.5"/>
<path d="M143.73 383.68V387.87M144.14 382.08V384.68" stroke="#26a69a" stroke-width="0.75"/>
<path d="M144.54 381.68V385.78" stroke="#ef5350" stroke-width="0.5"/>
<path d="M144.54 382.08V384.88" stroke="#ef5350" stroke-width="0.75"/>
<path d="M144.95 378.44V388.41" stroke="#26a69a" stroke-width="0.5"/>
<path d="M144.95 380V384.88" stroke="#26a69a" stroke-width="0.75"/>
<path d="M145.35 378.31V391.51" stroke="#ef5350" stroke-width="0.5"/>
<path d="M145.35 380V388.56" stroke="#ef5350" stroke-width="0.75"/>
<path d="M145.76 385.83V388.68M146.16 383.24V390.3" stroke="#26a69a" stroke-width="0.5"/>
<path d="M145.76 387.37V388.56M146.16 386.52V388.37" stroke="#26a69a" stroke-width="0.75"/>
<path d="M146.57 383.22V394.99M146.97 390.59V396.58" stroke="#ef5350" stroke-width="0.5"/>
<path d="M146.57 386.52V393.08M146.97 392.08V395.4" stroke="#ef5350" stroke-width="0.75"/>
<path d="M147.38 384.8V398.79" stroke="#26a69a" stroke-width="0.5"/>
<path d="M147.38 388.96V395.4" stroke="#26a69a" stroke-width="0.75"/>
<path d="M147.78 386.98V392M148.19 390.26V396.67" stroke="#ef5350" stroke-width="0.5"/>
<path d="M147.78 388.96V391.62M148.19 390.62V393.22" stroke="#ef5350" stroke-width="0.75"/>
<path d="M148.59 390.8V393.61M149 384.98V394.62M149.4 388.17V392.33" stroke="#26a69a" stroke-width="0.5"/>
<path d="M148.59 391.59V393.22M149 389.96V392.59M149.4 388.35V390.96" stroke="#26a69a" stroke-width="0.75"/>
<path d="M149.81 384V398.49" stroke="#ef5350" stroke-width="0.5"/>
<path d="M149.81 388.35V395.44" stroke="#ef5350" stroke-width="0.75"/>
<path d="M150.21 387.59V396.19M150.62 384.07V393.48M151.03 378.3V385.65" stroke="#26a69a" stroke-width="0.5"/>
<path d="M150.21 391.25V395.44M150.62 384.35V392.25M151.03 381.82V385.35" stroke="#26a69a" stroke-width="0.75"/>
<path d="M151.43 380.53V390.07" stroke="#ef5350" stroke-width="0.5"/>
<path d="M151.43 381.82V387.01" stroke="#ef5350" stroke-width="0.75"/>
<path d="M151.84 379.41V389.96M152.24 379.8V387.06M152.65 375.46V387.53M153.05 370.33V384.89M153.46 370.62V373.08M153.86 358.36V376.6" stroke="#26a69a" stroke-width="0.5"/>
<path d="M151.84 382.3V387.01M152.24 381.83V383.3M152.65 377.5V382.83M153.05 371.52V378.5M153.46 371.41V372.52M153.86 363.84V372.41" stroke="#26a69a" stroke-width="0.75"/>
<path d="M154.27 362.93V367.93" stroke="#ef5350" stroke-width="0.5"/>
<path d="M154.27 363.84V365.32" stroke="#ef5350" stroke-width="0.75"/>
<path d="M154.67 363.04V365.65M155.08 356.1V367.27" stroke="#26a69a" stroke-width="0.5"/>
<path d="M154.67 363.29V365.32M155.08 363.05V364.29" stroke="#26a69a" stroke-width="0.75"/>
<path d="M155.48 362.1V365.19M155.89 360.92V372.87M156.29 366.44V374.44M156.7 371.5V376.3M157.1 373.2V379.85M157.51 375.18V379.93M157.91 374.92V378.89M158.32 376.36V382M158.72 377.19V382.74M159.13 377.75V383.31M159.53 374.88V388.71M159.94 384.75V393.29M160.34 389.8V397.79M160.75 392.38V394.51" stroke="#ef5350" stroke-width="0.5"/>
<path d="M155.48 363.05V364.33M155.89 363.33V368.5M156.29 367.5V372.63M156.7 371.63V375.36M157.1 374.36V377.55M157.51 376.55V377.86M157.91 376.86V377.96M158.32 376.96V381.51M158.72 380.51V382.18M159.13 381.18V383.37M159.53 382.37V386.82M159.94 385.82V391.16M160.34 390.16V393.96M160.75 392.96V394.58" stroke="#ef5350" stroke-width="0.75"/>
<path d="M161.16 389.71V397.82M161.56 391.57V395.32M161.97 388.1V395.31M162.37 388.62V395.96" stroke="#26a69a" stroke-width="0.5"/>
<path d="M161.16 392.84V394.58M161.56 392.81V393.84M161.97 391.75V393.81M162.37 388.99V392.75" stroke="#26a69a" stroke-width="0.75"/>
<path d="M162.78 386.53V393.98M163.18 388.54V402.28M163.59 394.17V397.59M163.99 389.48V396.59M164.4 393.47V401.35M164.8 398.7V404.84M165.21 398.63V408.87M165.61 403.78V423.45M166.02 415.47V439.46M166.42 426.49V470M166.83 452.67V455M167.23 453.09V457.86M167.64 450.7V462.23M168.04 457.08V469.83" stroke="#ef5350" stroke-width="0.5"/>
<path d="M162.78 388.99V393.11M163.18 392.11V395.1M163.59 394.1V395.8M163.99 394.8V396.48M164.4 395.48V400.54M164.8 399.54V402.61M165.21 401.61V407.55M165.61 406.55V420.32M166.02 419.32V433.69M166.42 432.69V453.53M166.83 452.53V454.56M167.23 453.56V456.18M167.64 455.18V459.06M168.04 458.06V463.06" stroke="#ef5350" stroke-width="0.75"/>
<path d="M168.45 454.25V468.15M168.85 451.18V460.81M169.26 448V454.58" stroke="#26a69a" stroke-width="0.5"/>
<path d="M168.45 456.45V463.06M168.85 452.87V457.45M169.26 452.65V453.87" stroke="#26a69a" stroke-width="0.75"/>
<path d="M169.66 450.73V459.5M170.07 453.82V459.28M170.47 455.9V461.39M170.88 456.89V463.1" stroke="#ef5350" stroke-width="0.5"/>
<path d="M169.66 452.65V457.24M170.07 456.24V458.36M170.47 457.36V458.85M170.88 457.85V462.76" stroke="#ef5350" stroke-width="0.75"/>
<path d="M171.29 458.56V462.95M171.69 456.91V461.46" stroke="#26a69a" stroke-width="0.5"/>
<path d="M171.29 459.55V462.76M171.69 457.35V460.55" stroke="#26a69a" stroke-width="0.75"/>
<path d="M172.1 457.32V460M172.5 454.51V461.4" stroke="#ef5350" stroke-width="0.5"/>
<path d="M172.1 457.35V458.98M172.5 457.98V460.53" stroke="#ef5350" stroke-width="0.75"/>
<path d="M172.91 455.37V461.88M173.31 456.05V462.7M173.72 451.18V465.42" stroke="#26a69a" stroke-width="0.5"/>
<path d="M172.91 457.43V460.53M173.31 457.01V458.43M173.72 452.45V458.01" stroke="#26a69a" stroke-width="0.75"/>
<path d="M174.12 446.24V456.01M174.53 450.31V457.49" stroke="#ef5350" stroke-width="0.5"/>
<path d="M174.12 452.45V455.27M174.53 454.27V456.97" stroke="#ef5350" stroke-width="0.75"/>
<path d="M174.93 451.59V456.94" stroke="#26a69a" stroke-width="0.5"/>
<path d="M174.93 453.68V456.97" stroke="#26a69a" stroke-width="0.75"/>
<path d="M175.34 452.42V457.73" stroke="#ef5350" stroke-width="0.5"/>
<path d="M175.34 453.68V457.4" stroke="#ef5350" stroke-width="0.75"/>
<path d="M175.74 453.08V457.9M176.15 453.68V457.01M176.55 450.58V456.04" stroke="#26a69a" stroke-width="0.5"/>
<path d="M175.74 454.79V457.4M176.15 454.52V455.79M176.55 451.23V455.52" stroke="#26a69a" stroke-width="0.75"/>
<path d="M176.96 447.66V457.58" stroke="#ef5350" stroke-width="0.5"/>
<path d="M176.96 451.23V457.09" stroke="#ef5350" stroke-width="0.75"/>
<path d="M177.36 444.5V460.41M177.77 446.25V456.35" stroke="#26a69a" stroke-width="0.5"/>
<path d="M177.36 452.42V457.09M177.77 449.5V453.42" stroke="#26a69a" stroke-width="0.75"/>
<path d="M178.17 445.29V454.91M178.58 444.8V461.58" stroke="#ef5350" stroke-width="0.5"/>
<path d="M178.17 449.5V451.84M178.58 450.84V457.79" stroke="#ef5350" stroke-width="0.75"/>
<path d="M178.98 450.89V460.09" stroke="#26a69a" stroke-width="0.5"/>
<path d="M178.98 451.31V457.79" stroke="#26a69a" stroke-width="0.75"/>
<path d="M179.39 450.8V457.58M179.79 452.11V464.65" stroke="#ef5350" stroke-width="0.5"/>
<path d="M179.39 451.31V455.55M179.79 454.55V456.47" stroke="#ef5350" stroke-width="0.75"/>
<path d="M180.2 451.1V460.83M180.6 452.24V460.06" stroke="#26a69a" stroke-width="0.5"/>
<path d="M180.2 454.11V456.47M180.6 452.19V455.11" stroke="#26a69a" stroke-width="0.75"/>
<path d="M181.01 446.62V457.36M181.42 453.25V459.16M181.82 455.14V465.22" stroke="#ef5350" stroke-width="0.5"/>
<path d="M181.01 452.19V456.59M181.42 455.59V457.49M181.82 456.49V459.66" stroke="#ef5350" stroke-width="0.75"/>
<path d="M182.23 457.52V460.79M182.63 456.89V462.3" stroke="#26a69a" stroke-width="0.5"/>
<path d="M182.23 458.47V459.66M182.63 456.9V459.47" stroke="#26a69a" stroke-width="0.75"/>
<path d="M183.04 451.14V458.8" stroke="#ef5350" stroke-width="0.5"/>
<path d="M183.04 456.9V458.55" stroke="#ef5350" stroke-width="0.75"/>
<path d="M183.44 454.41V459.32M183.85 450.72V462.03M184.25 452.04V455.12M184.66 450.62V454.17" stroke="#26a69a" stroke-width="0.5"/>
<path d="M183.44 455.8V458.55M183.85 454V456.8M184.25 452.59V455M184.66 450.87V453.59" stroke="#26a69a" stroke-width="0.75"/>
<path d="M185.06 449.92V453.13" stroke="#ef5350" stroke-width="0.5"/>
<path d="M185.06 450.87V452.64" stroke="#ef5350" stroke-width="0.75"/>
<path d="M185.47 444.57V457.98M185.87 444.7V449.74" stroke="#26a69a" stroke-width="0.5"/>
<path d="M185.47 446.74V452.64M185.87 446.39V447.74" stroke="#26a69a" stroke-width="0.75"/>
<path d="M186.28 443.94V450.82" stroke="#ef5350" stroke-width="0.5"/>
<path d="M186.28 446.39V447.48" stroke="#ef5350" stroke-width="0.75"/>
<path d="M186.68 427.89V450.79M187.09 419.6V441.33M187.49 399.7V425.37" stroke="#26a69a" stroke-width="0.5"/>
<path d="M186.68 432.22V447.48M187.09 422.63V433.22M187.49 403.17V423.63" stroke="#26a69a" stroke-width="0.75"/>
<path d="M187.9 400.25V405.15M188.3 402.7V410.28M188.71 405.1V413.15M189.11 408.03V416M189.52 405.8V418.27" stroke="#ef5350" stroke-width="0.5"/>
<path d="M187.9 403.17V404.46M188.3 403.46V409.52M188.71 408.52V411.94M189.11 410.94V413.07M189.52 412.07V414.8" stroke="#ef5350" stroke-width="0.75"/>
<path d="M189.92 411.34V415.41" stroke="#26a69a" stroke-width="0.5"/>
<path d="M189.92 412.64V414.8" stroke="#26a69a" stroke-width="0.75"/>
<path d="M190.33 407.62V426.8" stroke="#ef5350" stroke-width="0.5"/>
<path d="M190.33 412.64V421.78" stroke="#ef5350" stroke-width="0.75"/>
<path d="M190.73 416.29V423.05M191.14 414.75V422.39M191.55 410.1V420.92" stroke="#26a69a" stroke-width="0.5"/>
<path d="M190.73 417.64V421.78M191.14 417.24V418.64M191.55 411.47V418.24" stroke="#26a69a" stroke-width="0.75"/>
<path d="M191.95 408.78V419.2" stroke="#ef5350" stroke-width="0.5"/>
<path d="M191.95 411.47V412.76" stroke="#ef5350" stroke-width="0.75"/>
<path d="M192.36 405.7V415.89" stroke="#26a69a" stroke-width="0.5"/>
<path d="M192.36 407.9V412.76" stroke="#26a69a" stroke-width="0.75"/>
<path d="M192.76 406.98V417.91" stroke="#ef5350" stroke-width="0.5"/>
<path d="M192.76 407.9V413.95" stroke="#ef5350" stroke-width="0.75"/>
<path d="M193.17 412.41V416.38M193.57 404.83V416.48" stroke="#26a69a" stroke-width="0.5"/>
<path d="M193.17 412.85V413.95M193.57 406.49V413.85" stroke="#26a69a" stroke-width="0.75"/>
<path d="M193.98 405.88V415.04M194.38 405.78V412.57" stroke="#ef5350" stroke-width="0.5"/>
<path d="M193.98 406.49V410.94M194.38 409.94V411.96" stroke="#ef5350" stroke-width="0.75"/>
<path d="M194.79 404.44V413.8M195.19 401.12V406.86" stroke="#26a69a" stroke-width="0.5"/>
<path d="M194.79 405.51V411.96M195.19 404.37V406.51" stroke="#26a69a" stroke-width="0.75"/>
<path d="M195.6 402.17V410.24" stroke="#ef5350" stroke-width="0.5"/>
<path d="M195.6 404.37V405.94" stroke="#ef5350" stroke-width="0.75"/>
<path d="M196 402.33V410.79M196.41 398.19V409.15" stroke="#26a69a" stroke-width="0.5"/>
<path d="M196 404.82V405.94M196.41 402.17V405.82" stroke="#26a69a" stroke-width="0.75"/>
<path d="M196.81 401.16V406.78" stroke="#ef5350" stroke-width="0.5"/>
<path d="M196.81 402.17V405.15" stroke="#ef5350" stroke-width="0.75"/>
<path d="M197.22 402.59V408.06M197.62 394.7V410.07M198.03 394.88V403.51M198.43 398.18V402.97M198.84 386.8V401.74M199.24 389.96V400.43" stroke="#26a69a" stroke-width="0.5"/>
<path d="M197.22 403.52V405.15M197.62 401.99V404.52M198.03 399.8V402.99M198.43 399.14V400.8M198.84 396.1V400.14M199.24 390.89V397.1" stroke="#26a69a" stroke-width="0.75"/>
<path d="M199.65 390.52V396.01" stroke="#ef5350" stroke-width="0.5"/>
<path d="M199.65 390.89V393.99" stroke="#ef5350" stroke-width="0.75"/>
<path d="M200.05 391.74V394.94" stroke="#26a69a" stroke-width="0.5"/>
<path d="M200.05 392.23V393.99" stroke="#26a69a" stroke-width="0.75"/>
<path d="M200.46 391.52V396.15M200.86 392.02V396.66M201.27 394.72V398.75M201.68 394.83V400.4" stroke="#ef5350" stroke-width="0.5"/>
<path d="M200.46 392.23V393.6M200.86 392.6V396.09M201.27 395.09V396.68M201.68 395.68V398.1" stroke="#ef5350" stroke-width="0.75"/>
<path d="M202.08 391.17V399.25" stroke="#26a69a" stroke-width="0.5"/>
<path d="M202.08 393.28V398.1" stroke="#26a69a" stroke-width="0.75"/>
<path d="M202.49 390.58V398.79M202.89 394.81V402.51M203.3 395.21V402.94M203.7 396.55V401.83M204.11 394.72V403.75" stroke="#ef5350" stroke-width="0.5"/>
<path d="M202.49 393.28V396.09M202.89 395.09V399.71M203.3 398.71V400.42M203.7 399.42V401.26M204.11 400.26V402.85" stroke="#ef5350" stroke-width="0.75"/>
<path d="M204.51 395.84V403.18" stroke="#26a69a" stroke-width="0.5"/>
<path d="M204.51 400.8V402.85" stroke="#26a69a" stroke-width="0.75"/>
<path d="M204.92 399.98V405.24" stroke="#ef5350" stroke-width="0.5"/>
<path d="M204.92 400.8V404.67" stroke="#ef5350" stroke-width="0.75"/>
<path d="M205.32 402.37V409.11M205.73 397.4V405.89M206.13 400.31V406.1" stroke="#26a69a" stroke-width="0.5"/>
<path d="M205.32 402.75V404.67M205.73 401.63V403.75M206.13 400.2V402.63" stroke="#26a69a" stroke-width="0.75"/>
<path d="M206.54 399.64V404.98" stroke="#ef5350" stroke-width="0.5"/>
<path d="M206.54 400.2V402.05" stroke="#ef5350" stroke-width="0.75"/>
<path d="M206.94 391.49V404.52" stroke="#26a69a" stroke-width="0.5"/>
<path d="M206.94 395.51V402.05" stroke="#26a69a" stroke-width="0.75"/>
<path d="M207.35 394.42V401.21M207.75 390.91V403.4" stroke="#ef5350" stroke-width="0.5"/>
<path d="M207.35 395.51V399.96M207.75 398.96V403.12" stroke="#ef5350" stroke-width="0.75"/>
<path d="M208.16 399.14V405.06" stroke="#26a69a" stroke-width="0.5"/>
<path d="M208.16 400.09V403.12" stroke="#26a69a" stroke-width="0.75"/>
<path d="M208.56 397.43V406.15M208.97 401.62V410.42" stroke="#ef5350" stroke-width="0.5"/>
<path d="M208.56 400.09V405.87M208.97 404.87V406.96" stroke="#ef5350" stroke-width="0.75"/>
<path d="M209.37 403.68V407.75" stroke="#26a69a" stroke-width="0.5"/>
<path d="M209.37 403.95V406.96" stroke="#26a69a" stroke-width="0.75"/>
<path d="M209.78 400.69V409.28M210.18 407.11V415.4M210.59 405.61V410.32" stroke="#ef5350" stroke-width="0.5"/>
<path d="M209.78 403.95V408.52M210.18 407.52V408.74M210.59 407.74V409.7" stroke="#ef5350" stroke-width="0.75"/>
<path d="M210.99 406.34V410.5M211.4 405.1V413.5M211.81 397.88V409.32" stroke="#26a69a" stroke-width="0.5"/>
<path d="M210.99 408.35V409.7M211.4 406.32V409.35M211.81 403.95V407.32" stroke="#26a69a" stroke-width="0.75"/>
<path d="M212.21 401.35V406.6" stroke="#ef5350" stroke-width="0.5"/>
<path d="M212.21 403.95V405.77" stroke="#ef5350" stroke-width="0.75"/>
<path d="M212.62 403.73V406.38M213.02 400.35V406.78M213.43 396.28V407.97M213.83 390.17V400.6M214.24 384.77V394.49M214.64 379.84V389.82M215.05 367.5V386.31M215.45 371.36V379.13" stroke="#26a69a" stroke-width="0.5"/>
<path d="M212.62 404.27V405.77M213.02 403.36V405.27M213.43 398.25V404.36M213.83 391.93V399.25M214.24 386.41V392.93M214.64 383.2V387.41M215.05 376.96V384.2M215.45 376.17V377.96" stroke="#26a69a" stroke-width="0.75"/>
<path d="M215.86 373.99V381.13M216.26 377.23V381.15M216.67 376.83V389.17M217.07 378.47V386.47" stroke="#ef5350" stroke-width="0.5"/>
<path d="M215.86 376.17V380.07M216.26 379.07V380.09M216.67 379.09V382.16M217.07 381.16V383.84" stroke="#ef5350" stroke-width="0.75"/>
<path d="M217.48 378.73V385.45" stroke="#26a69a" stroke-width="0.5"/>
<path d="M217.48 381.27V383.84" stroke="#26a69a" stroke-width="0.75"/>
<path d="M217.88 380.17V387.77" stroke="#ef5350" stroke-width="0.5"/>
<path d="M217.88 381.27V386.66" stroke="#ef5350" stroke-width="0.75"/>
<path d="M218.29 369.68V391.36" stroke="#26a69a" stroke-width="0.5"/>
<path d="M218.29 378.75V386.66" stroke="#26a69a" stroke-width="0.75"/>
<path d="M218.69 378.07V383.76" stroke="#ef5350" stroke-width="0.5"/>
<path d="M218.69 378.75V381.38" stroke="#ef5350" stroke-width="0.75"/>
<path d="M219.1 375.76V382.28" stroke="#26a69a" stroke-width="0.5"/>
<path d="M219.1 376.97V381.38" stroke="#26a69a" stroke-width="0.75"/>
<path d="M219.5 374.4V380.46" stroke="#ef5350" stroke-width="0.5"/>
<path d="M219.5 376.97V378.7" stroke="#ef5350" stroke-width="0.75"/>
<path d="M219.91 368.39V384.5" stroke="#26a69a" stroke-width="0.5"/>
<path d="M219.91 370.22V378.7" stroke="#26a69a" stroke-width="0.75"/>
<path d="M220.31 369.27V376.58M220.72 370.78V383.9M221.12 376.33V383.03M221.53 377.28V389.19" stroke="#ef5350" stroke-width="0.5"/>
<path d="M220.31 370.22V375.61M220.72 374.61V378.69M221.12 377.69V380.41M221.53 379.41V385.04" stroke="#ef5350" stroke-width="0.75"/>
<path d="M221.94 377.79V386.03" stroke="#26a69a" stroke-width="0.5"/>
<path d="M221.94 379.25V385.04" stroke="#26a69a" stroke-width="0.75"/>
<path d="M222.34 376.96V382.99" stroke="#ef5350" stroke-width="0.5"/>
<path d="M222.34 379.25V381.37" stroke="#ef5350" stroke-width="0.75"/>
<path d="M222.75 375.37V383.64M223.15 376.47V381.32M223.56 373.08V384.65M223.96 371.8V379.16" stroke="#26a69a" stroke-width="0.5"/>
<path d="M222.75 378.41V381.37M223.15 377.91V379.41M223.56 376.11V378.91M223.96 373.83V377.11" stroke="#26a69a" stroke-width="0.75"/>
<path d="M224.37 373V376.13" stroke="#ef5350" stroke-width="0.5"/>
<path d="M224.37 373.83V375.34" stroke="#ef5350" stroke-width="0.75"/>
<path d="M224.77 367.48V377.68" stroke="#26a69a" stroke-width="0.5"/>
<path d="M224.77 369.68V375.34" stroke="#26a69a" stroke-width="0.75"/>
<path d="M225.18 367.16V374.23" stroke="#ef5350" stroke-width="0.5"/>
<path d="M225.18 369.68V374.05" stroke="#ef5350" stroke-width="0.75"/>
<path d="M225.58 366.56V376.24" stroke="#26a69a" stroke-width="0.5"/>
<path d="M225.58 367.06V374.05" stroke="#26a69a" stroke-width="0.75"/>
<path d="M225.99 361.57V369.45M226.39 363.48V372.4" stroke="#ef5350" stroke-width="0.5"/>
<path d="M225.99 367.06V369.34M226.39 368.34V371.9" stroke="#ef5350" stroke-width="0.75"/>
<path d="M226.8 364.31V376.47" stroke="#26a69a" stroke-width="0.5"/>
<path d="M226.8 364.88V371.9" stroke="#26a69a" stroke-width="0.75"/>
<path d="M227.2 362.4V366.54M227.61 364.27V369.03" stroke="#ef5350" stroke-width="0.5"/>
<path d="M227.2 364.88V366.2M227.61 365.2V368.4" stroke="#ef5350" stroke-width="0.75"/>
<path d="M228.01 360.75V370.9M228.42 362.59V369.29" stroke="#26a69a" stroke-width="0.5"/>
<path d="M228.01 364.82V368.4M228.42 362.87V365.82" stroke="#26a69a" stroke-width="0.75"/>
<path d="M228.82 359.69V368.66M229.23 363.91V368.99M229.63 356.6V367.29" stroke="#ef5350" stroke-width="0.5"/>
<path d="M228.82 362.87V365.91M229.23 364.91V366.4M229.63 365.4V366.47" stroke="#ef5350" stroke-width="0.75"/>
<path d="M230.04 362.81V370.73" stroke="#26a69a" stroke-width="0.5"/>
<path d="M230.04 363.08V366.47" stroke="#26a69a" stroke-width="0.75"/>
<path d="M230.44 362.19V372.06M230.85 366.11V378.34" stroke="#ef5350" stroke-width="0.5"/>
<path d="M230.44 363.08V370.74M230.85 369.74V371.91" stroke="#ef5350" stroke-width="0.75"/>
<path d="M231.25 365.54V372.5" stroke="#26a69a" stroke-width="0.5"/>
<path d="M231.25 368.81V371.91" stroke="#26a69a" stroke-width="0.75"/>
<path d="M231.66 368.9V375.57" stroke="#ef5350" stroke-width="0.5"/>
<path d="M231.66 368.81V371.69" stroke="#ef5350" stroke-width="0.75"/>
<path d="M232.07 368.1V375.42" stroke="#26a69a" stroke-width="0.5"/>
<path d="M232.07 370.58V371.69" stroke="#26a69a" stroke-width="0.75"/>
<path d="M232.47 368.88V378.34" stroke="#ef5350" stroke-width="0.5"/>
<path d="M232.47 370.58V376.57" stroke="#ef5350" stroke-width="0.75"/>
<path d="M232.88 371.81V378.45" stroke="#26a69a" stroke-width="0.5"/>
<path d="M232.88 372.21V376.57" stroke="#26a69a" stroke-width="0.75"/>
<path d="M233.28 368.06V380.15" stroke="#ef5350" stroke-width="0.5"/>
<path d="M233.28 372.21V377.2" stroke="#ef5350" stroke-width="0.75"/>
<path d="M233.69 372.41V378.76" stroke="#26a69a" stroke-width="0.5"/>
<path d="M233.69 374.87V377.2" stroke="#26a69a" stroke-width="0.75"/>
<path d="M234.09 373.38V378.03M234.5 373.67V381.37M234.9 379.53V387.61" stroke="#ef5350" stroke-width="0.5"/>
<path d="M234.09 374.87V376.51M234.5 375.51V380.5M234.9 379.5V382.57" stroke="#ef5350" stroke-width="0.75"/>
<path d="M235.31 377.62V383.26M235.71 377.39V384.34" stroke="#26a69a" stroke-width="0.5"/>
<path d="M235.31 379.54V382.57M235.71 378.92V380.54" stroke="#26a69a" stroke-width="0.75"/>
<path d="M236.12 377.09V389.36M236.52 382.75V388.03M236.93 383.63V395.79M237.33 388.19V398.91M237.74 396.65V404.36" stroke="#ef5350" stroke-width="0.5"/>
<path d="M236.12 378.92V384.82M236.52 383.82V387.19M236.93 386.19V392.14M237.33 391.14V398.87M237.74 397.87V401.7" stroke="#ef5350" stroke-width="0.75"/>
<path d="M238.14 399.75V403.14" stroke="#26a69a" stroke-width="0.5"/>
<path d="M238.14 400.52V401.7" stroke="#26a69a" stroke-width="0.75"/>
<path d="M238.55 398.92V415.9" stroke="#ef5350" stroke-width="0.5"/>
<path d="M238.55 400.52V410.21" stroke="#ef5350" stroke-width="0.75"/>
<path d="M238.95 402.35V413.68" stroke="#26a69a" stroke-width="0.5"/>
<path d="M238.95 403.75V410.21" stroke="#26a69a" stroke-width="0.75"/>
<path d="M239.36 400.97V408.49" stroke="#ef5350" stroke-width="0.5"/>
<path d="M239.36 403.75V405.72" stroke="#ef5350" stroke-width="0.75"/>
<path d="M239.76 399.66V407.75" stroke="#26a69a" stroke-width="0.5"/>
<path d="M239.76 401.03V405.72" stroke="#26a69a" stroke-width="0.75"/>
<path d="M240.17 400.25V408.13" stroke="#ef5350" stroke-width="0.5"/>
<path d="M240.17 401.03V402.62" stroke="#ef5350" stroke-width="0.75"/>
<path d="M240.57 394.25V404.81" stroke="#26a69a" stroke-width="0.5"/>
<path d="M240.57 397.37V402.62" stroke="#26a69a" stroke-width="0.75"/>
<path d="M240.98 394.43V406.97M241.38 405.9V406.84" stroke="#ef5350" stroke-width="0.5"/>
<path d="M240.98 397.37V406.78M241.38 405.78V406.98" stroke="#ef5350" stroke-width="0.75"/>
<path d="M241.79 396.92V408.47" stroke="#26a69a" stroke-width="0.5"/>
<path d="M241.79 401.66V406.98" stroke="#26a69a" stroke-width="0.75"/>
<path d="M242.2 399.01V405.02M242.6 397.75V408.24M243.01 399.18V414.22" stroke="#ef5350" stroke-width="0.5"/>
<path d="M242.2 401.66V403.14M242.6 402.14V403.99M243.01 402.99V411.29" stroke="#ef5350" stroke-width="0.75"/>
<path d="M243.41 406.73V414.2" stroke="#26a69a" stroke-width="0.5"/>
<path d="M243.41 409.23V411.29" stroke="#26a69a" stroke-width="0.75"/>
<path d="M243.82 404.83V414.12M244.22 407.78V420.97M244.63 412.83V421.43M245.03 413.85V420.8M245.44 416.26V422.58" stroke="#ef5350" stroke-width="0.5"/>
<path d="M243.82 409.23V413.44M244.22 412.44V415.28M244.63 414.28V418.06M245.03 417.06V418.25M245.44 417.25V420.99" stroke="#ef5350" stroke-width="0.75"/>
<path d="M245.84 415V423.65" stroke="#26a69a" stroke-width="0.5"/>
<path d="M245.84 417.32V420.99" stroke="#26a69a" stroke-width="0.75"/>
<path d="M246.25 413.61V424.39M246.65 420.49V424.94M247.06 418.02V423.94" stroke="#ef5350" stroke-width="0.5"/>
<path d="M246.25 417.32V421.6M246.65 420.6V422.8M247.06 421.8V423.51" stroke="#ef5350" stroke-width="0.75"/>
<path d="M247.46 416.2V428.22M247.87 419.82V423.83" stroke="#26a69a" stroke-width="0.5"/>
<path d="M247.46 421.24V423.51M247.87 420.04V422.24" stroke="#26a69a" stroke-width="0.75"/>
<path d="M248.27 419.49V425.92" stroke="#ef5350" stroke-width="0.5"/>
<path d="M248.27 420.04V423.47" stroke="#ef5350" stroke-width="0.75"/>
<path d="M248.68 420.2V424.43" stroke="#26a69a" stroke-width="0.5"/>
<path d="M248.68 421.32V423.47" stroke="#26a69a" stroke-width="0.75"/>
<path d="M249.08 420.9V427.98" stroke="#ef5350" stroke-width="0.5"/>
<path d="M249.08 421.32V427" stroke="#ef5350" stroke-width="0.75"/>
<path d="M249.49 418.75V428.26M249.89 422.96V426.83" stroke="#26a69a" stroke-width="0.5"/>
<path d="M249.49 425.33V427M249.89 424.49V426.33" stroke="#26a69a" stroke-width="0.75"/>
<path d="M250.3 423.04V426.9M250.7 422.87V426.66" stroke="#ef5350" stroke-width="0.5"/>
<path d="M250.3 424.49V425.76M250.7 424.76V426.29" stroke="#ef5350" stroke-width="0.75"/>
<path d="M251.11 420.37V436.5M251.51 424.23V427.35M251.92 420.85V426.97M252.33 419.44V429.89M252.73 420.31V425.62" stroke="#26a69a" stroke-width="0.5"/>
<path d="M251.11 425.09V426.29M251.51 424.7V426.09M251.92 424.44V425.7M252.33 423.28V425.44M252.73 421.77V424.28" stroke="#26a69a" stroke-width="0.75"/>
<path d="M253.14 408.5V428.36" stroke="#ef5350" stroke-width="0.5"/>
<path d="M253.14 421.77V425.04" stroke="#ef5350" stroke-width="0.75"/>
<path d="M253.54 418.49V427.45" stroke="#26a69a" stroke-width="0.5"/>
<path d="M253.54 418.56V425.04" stroke="#26a69a" stroke-width="0.75"/>
<path d="M253.95 418.51V425.65M254.35 418.1V430.22" stroke="#ef5350" stroke-width="0.5"/>
<path d="M253.95 418.56V421.47M254.35 420.47V427.72" stroke="#ef5350" stroke-width="0.75"/>
<path d="M254.76 413.32V431.35" stroke="#26a69a" stroke-width="0.5"/>
<path d="M254.76 417.34V427.72" stroke="#26a69a" stroke-width="0.75"/>
<path d="M255.16 413.23V422.46M255.57 419.18V423.03" stroke="#ef5350" stroke-width="0.5"/>
<path d="M255.16 417.34V420.84M255.57 419.84V420.87" stroke="#ef5350" stroke-width="0.75"/>
<path d="M255.97 415.22V421.58M256.38 416.08V421.12M256.78 409.31V418.73" stroke="#26a69a" stroke-width="0.5"/>
<path d="M255.97 418.42V420.87M256.38 417.54V419.42M256.78 414.76V418.54" stroke="#26a69a" stroke-width="0.75"/>
<path d="M257.19 411.5V418.71M257.59 414.69V421.95M258 415.76V423.05" stroke="#ef5350" stroke-width="0.5"/>
<path d="M257.19 414.76V416.74M257.59 415.74V417.09M258 416.09V419.61" stroke="#ef5350" stroke-width="0.75"/>
<path d="M258.4 413.42V425.22" stroke="#26a69a" stroke-width="0.5"/>
<path d="M258.4 414.03V419.61" stroke="#26a69a" stroke-width="0.75"/>
<path d="M258.81 410.93V421.44M259.21 416.82V422.67" stroke="#ef5350" stroke-width="0.5"/>
<path d="M258.81 414.03V418.16M259.21 417.16V421.35" stroke="#ef5350" stroke-width="0.75"/>
<path d="M259.62 419.71V423.01" stroke="#26a69a" stroke-width="0.5"/>
<path d="M259.62 419.81V421.35" stroke="#26a69a" stroke-width="0.75"/>
<path d="M260.02 416.47V428.87M260.43 420.41V428.66" stroke="#ef5350" stroke-width="0.5"/>
<path d="M260.02 419.81V422.4M260.43 421.4V427.54" stroke="#ef5350" stroke-width="0.75"/>
<path d="M260.83 421.15V427.51" stroke="#26a69a" stroke-width="0.5"/>
<path d="M260.83 424.8V427.54" stroke="#26a69a" stroke-width="0.75"/>
<path d="M261.24 421.88V430.74M261.64 423.58V431.45" stroke="#ef5350" stroke-width="0.5"/>
<path d="M261.24 424.8V429.31M261.64 428.31V430.36" stroke="#ef5350" stroke-width="0.75"/>
<path d="M262.05 427.5V431.98M262.46 427.56V434.62M262.86 424.96V432.65M263.27 418.89V427.4" stroke="#26a69a" stroke-width="0.5"/>
<path d="M262.05 429.01V430.36M262.46 428.35V430.01M262.86 425.99V429.35M263.27 422.17V426.99" stroke="#26a69a" stroke-width="0.75"/>
<path d="M263.67 419.19V428.09" stroke="#ef5350" stroke-width="0.5"/>
<path d="M263.67 422.17V424.98" stroke="#ef5350" stroke-width="0.75"/>
<path d="M264.08 420.53V425.07M264.48 415.49V425.06M264.89 419.74V421.67" stroke="#26a69a" stroke-width="0.5"/>
<path d="M264.08 423.92V424.98M264.48 420.77V424.92M264.89 420.59V421.77" stroke="#26a69a" stroke-width="0.75"/>
<path d="M265.29 416.7V423.86" stroke="#ef5350" stroke-width="0.5"/>
<path d="M265.29 420.59V422.78" stroke="#ef5350" stroke-width="0.75"/>
<path d="M265.7 416.9V424.27" stroke="#26a69a" stroke-width="0.5"/>
<path d="M265.7 417.96V422.78" stroke="#26a69a" stroke-width="0.75"/>
<path d="M266.1 416.36V425.92M266.51 419.5V427.81" stroke="#ef5350" stroke-width="0.5"/>
<path d="M266.1 417.96V421.74M266.51 420.74V423.9" stroke="#ef5350" stroke-width="0.75"/>
<path d="M266.91 412.66V426.08" stroke="#26a69a" stroke-width="0.5"/>
<path d="M266.91 417.42V423.9" stroke="#26a69a" stroke-width="0.75"/>
<path d="M267.32 411.73V421.26" stroke="#ef5350" stroke-width="0.5"/>
<path d="M267.32 417.42V419.38" stroke="#ef5350" stroke-width="0.75"/>
<path d="M267.72 415.73V420.09" stroke="#26a69a" stroke-width="0.5"/>
<path d="M267.72 417.22V419.38" stroke="#26a69a" stroke-width="0.75"/>
<path d="M268.13 416.59V424.99" stroke="#ef5350" stroke-width="0.5"/>
<path d="M268.13 417.22V421.23" stroke="#ef5350" stroke-width="0.75"/>
<path d="M268.53 414.51V424.5M268.94 413.79V418.48M269.34 408.22V419.05M269.75 403.23V414.42M270.15 385.3V409.77M270.56 400.48V405.12" stroke="#26a69a" stroke-width="0.5"/>
<path d="M268.53 416.93V421.23M268.94 415.32V417.93M269.34 409.15V416.32M269.75 405.98V410.15M270.15 403.2V406.98M270.56 401.38V404.2" stroke="#26a69a" stroke-width="0.75"/>
<path d="M270.96 401.02V414.39M271.37 408.47V424" stroke="#ef5350" stroke-width="0.5"/>
<path d="M270.96 401.38V411.03M271.37 410.03V411.78" stroke="#ef5350" stroke-width="0.75"/>
<path d="M271.77 401.74V415.52" stroke="#26a69a" stroke-width="0.5"/>
<path d="M271.77 403.08V411.78" stroke="#26a69a" stroke-width="0.75"/>
<path d="M272.18 402.94V405.53" stroke="#ef5350" stroke-width="0.5"/>
<path d="M272.18 403.08V405.26" stroke="#ef5350" stroke-width="0.75"/>
<path d="M272.59 398.32V406.11" stroke="#26a69a" stroke-width="0.5"/>
<path d="M272.59 399.22V405.26" stroke="#26a69a" stroke-width="0.75"/>
<path d="M272.99 398.43V401.55" stroke="#ef5350" stroke-width="0.5"/>
<path d="M272.99 399.22V401.44" stroke="#ef5350" stroke-width="0.75"/>
<path d="M273.4 398.3V402.3M273.8 392.55V401.63" stroke="#26a69a" stroke-width="0.5"/>
<path d="M273.4 400.27V401.44M273.8 396.35V401.27" stroke="#26a69a" stroke-width="0.75"/>
<path d="M274.21 394.3V401.65M274.61 397.66V405.19" stroke="#ef5350" stroke-width="0.5"/>
<path d="M274.21 396.35V400.05M274.61 399.05V403.68" stroke="#ef5350" stroke-width="0.75"/>
<path d="M275.02 397.24V406.71" stroke="#26a69a" stroke-width="0.5"/>
<path d="M275.02 400.05V403.68" stroke="#26a69a" stroke-width="0.75"/>
<path d="M275.42 400.03V402.56M275.83 398.97V406.52M276.23 400.87V407.82M276.64 403.03V414M277.04 407.33V412.82" stroke="#ef5350" stroke-width="0.5"/>
<path d="M275.42 400.05V401.81M275.83 400.81V402.81M276.23 401.81V404.81M276.64 403.81V408.71M277.04 407.71V410.12" stroke="#ef5350" stroke-width="0.75"/>
<path d="M277.45 402.23V413.31M277.85 398.56V406.56" stroke="#26a69a" stroke-width="0.5"/>
<path d="M277.45 405.02V410.12M277.85 403.18V406.02" stroke="#26a69a" stroke-width="0.75"/>
<path d="M278.26 402.89V413.31" stroke="#ef5350" stroke-width="0.5"/>
<path d="M278.26 403.18V406.91" stroke="#ef5350" stroke-width="0.75"/>
<path d="M278.66 394.07V408.72M279.07 396.55V399.95" stroke="#26a69a" stroke-width="0.5"/>
<path d="M278.66 398.68V406.91M279.07 396.91V399.68" stroke="#26a69a" stroke-width="0.75"/>
<path d="M279.47 392.88V399.93" stroke="#ef5350" stroke-width="0.5"/>
<path d="M279.47 396.91V399.2" stroke="#ef5350" stroke-width="0.75"/>
<path d="M279.88 395.8V401.91M280.28 388.64V402.66M280.69 387.17V395.75" stroke="#26a69a" stroke-width="0.5"/>
<path d="M279.88 397.3V399.2M280.28 393.07V398.3M280.69 391.8V394.07" stroke="#26a69a" stroke-width="0.75"/>
<path d="M281.09 386V397.46M281.5 391.84V397.09" stroke="#ef5350" stroke-width="0.5"/>
<path d="M281.09 391.8V394.92M281.5 393.92V396.66" stroke="#ef5350" stroke-width="0.75"/>
<path d="M281.9 394.21V397.28" stroke="#26a69a" stroke-width="0.5"/>
<path d="M281.9 394.26V396.66" stroke="#26a69a" stroke-width="0.75"/>
<path d="M282.31 392.58V399.77M282.72 397.24V401.08M283.12 398.51V405.87" stroke="#ef5350" stroke-width="0.5"/>
<path d="M282.31 394.26V399.44M282.72 398.44V400.59M283.12 399.59V404.45" stroke="#ef5350" stroke-width="0.75"/>
<path d="M283.53 401.28V405.36M283.93 401.71V404.29M284.34 400.93V402.8" stroke="#26a69a" stroke-width="0.5"/>
<path d="M283.53 401.92V404.45M283.93 401.66V402.92M284.34 400.78V402.66" stroke="#26a69a" stroke-width="0.75"/>
<path d="M284.74 399.42V407.87" stroke="#ef5350" stroke-width="0.5"/>
<path d="M284.74 400.78V404.42" stroke="#ef5350" stroke-width="0.75"/>
<path d="M285.15 398.32V406.61M285.55 388.75V408.81M285.96 386.23V393.17M286.36 372.92V391.52M286.77 372.84V380.45M287.17 352V379.48" stroke="#26a69a" stroke-width="0.5"/>
<path d="M285.15 401.47V404.42M285.55 390.99V402.47M285.96 386.75V391.99M286.36 378.05V387.75M286.77 376.66V379.05M287.17 375.78V377.66" stroke="#26a69a" stroke-width="0.75"/>
<path d="M287.58 371.99V377.56" stroke="#ef5350" stroke-width="0.5"/>
<path d="M287.58 375.78V377.22" stroke="#ef5350" stroke-width="0.75"/>
<path d="M287.98 366V384.72M288.39 370.75V374.68M288.79 364.51V375.58M289.2 360.53V376.12" stroke="#26a69a" stroke-width="0.5"/>
<path d="M287.98 371.07V377.22M288.39 370.55V372.07M288.79 369.01V371.55M289.2 362.29V370.01" stroke="#26a69a" stroke-width="0.75"/>
<path d="M289.6 340.4V366.26M290.01 359.94V367.66M290.41 360.07V372.51M290.82 365.08V374.28M291.22 368.7V373.4M291.63 368.47V380.93M292.03 376.97V385.78M292.44 381.95V388.29M292.85 378.89V388.47" stroke="#ef5350" stroke-width="0.5"/>
<path d="M289.6 362.29V363.36M290.01 362.36V365.31M290.41 364.31V370.91M290.82 369.91V371.15M291.22 370.15V372.38M291.63 371.38V379.53M292.03 378.53V382.92M292.44 381.92V383.93M292.85 382.93V387.76" stroke="#ef5350" stroke-width="0.75"/>
<path d="M293.25 381.35V388.63" stroke="#26a69a" stroke-width="0.5"/>
<path d="M293.25 385.13V387.76" stroke="#26a69a" stroke-width="0.75"/>
<path d="M293.66 381.92V388.44M294.06 384.79V389.4" stroke="#ef5350" stroke-width="0.5"/>
<path d="M293.66 385.13V386.24M294.06 385.24V389.32" stroke="#ef5350" stroke-width="0.75"/>
<path d="M294.47 381.97V391.66" stroke="#26a69a" stroke-width="0.5"/>
<path d="M294.47 384.84V389.32" stroke="#26a69a" stroke-width="0.75"/>
<path d="M294.87 384.29V401.5M295.28 386.06V390.91M295.68 387.28V390.55" stroke="#ef5350" stroke-width="0.5"/>
<path d="M294.87 384.84V387.85M295.28 386.85V388.44M295.68 387.44V389.48" stroke="#ef5350" stroke-width="0.75"/>
<path d="M296.09 384.96V390M296.49 380.39V390.33M296.9 372.82V384.61M297.3 347.4V379.72" stroke="#26a69a" stroke-width="0.5"/>
<path d="M296.09 385.57V389.48M296.49 383.46V386.57M296.9 375.76V384.46M297.3 372.1V376.76" stroke="#26a69a" stroke-width="0.75"/>
<path d="M297.71 371.16V375.98" stroke="#ef5350" stroke-width="0.5"/>
<path d="M297.71 372.1V375.07" stroke="#ef5350" stroke-width="0.75"/>
<path d="M298.11 367.75V377.79" stroke="#26a69a" stroke-width="0.5"/>
<path d="M298.11 369.76V375.07" stroke="#26a69a" stroke-width="0.75"/>
<path d="M298.52 364.52V379.45" stroke="#ef5350" stroke-width="0.5"/>
<path d="M298.52 369.76V377.8" stroke="#ef5350" stroke-width="0.75"/>
<path d="M298.92 368.32V381.77" stroke="#26a69a" stroke-width="0.5"/>
<path d="M298.92 371.11V377.8" stroke="#26a69a" stroke-width="0.75"/>
<path d="M299.33 371.07V376.55" stroke="#ef5350" stroke-width="0.5"/>
<path d="M299.33 371.11V374.13" stroke="#ef5350" stroke-width="0.75"/>
<path d="M299.73 373.01V378.76" stroke="#26a69a" stroke-width="0.5"/>
<path d="M299.73 372.87V374.13" stroke="#26a69a" stroke-width="0.75"/>
<path d="M300.14 372.7V379.08" stroke="#ef5350" stroke-width="0.5"/>
<path d="M300.14 372.87V376.11" stroke="#ef5350" stroke-width="0.75"/>
<path d="M300.54 362.72V379.45M300.95 360.41V369.31M301.35 360.72V363.68M301.76 344.19V363.45M302.16 334.21V353.1M302.57 305.8V339.54M302.98 320.38V336.65" stroke="#26a69a" stroke-width="0.5"/>
<path d="M300.54 366.68V376.11M300.95 361.81V367.68M301.35 360.72V362.81M301.76 350.77V361.72M302.16 337.28V351.77M302.57 333.36V338.28M302.98 325.36V334.36" stroke="#26a69a" stroke-width="0.75"/>
<path d="M303.38 325.3V332.08M303.79 324.1V330.76" stroke="#ef5350" stroke-width="0.5"/>
<path d="M303.38 325.36V326.67M303.79 325.67V329.08" stroke="#ef5350" stroke-width="0.75"/>
<path d="M304.19 323.34V331.69" stroke="#26a69a" stroke-width="0.5"/>
<path d="M304.19 324.01V329.08" stroke="#26a69a" stroke-width="0.75"/>
<path d="M304.6 321.04V327.86" stroke="#ef5350" stroke-width="0.5"/>
<path d="M304.6 324.01V326.25" stroke="#ef5350" stroke-width="0.75"/>
<path d="M305 311.23V328.56M305.41 310.33V319.33M305.81 276.25V313.29M306.22 273.03V287.7M306.62 213.2V284.6" stroke="#26a69a" stroke-width="0.5"/>
<path d="M305 312.4V326.25M305.41 311.93V313.4M305.81 282.05V312.93M306.22 275.83V283.05M306.62 249.58V276.83" stroke="#26a69a" stroke-width="0.75"/>
<path d="M307.03 244.57V264.41M307.43 250.41V279.4" stroke="#ef5350" stroke-width="0.5"/>
<path d="M307.03 249.58V259.36M307.43 258.36V267.91" stroke="#ef5350" stroke-width="0.75"/>
<path d="M307.84 259.19V269.93M308.24 259.35V263.32M308.65 257.79V262.46M309.05 249.93V265.89" stroke="#26a69a" stroke-width="0.5"/>
<path d="M307.84 261.48V267.91M308.24 260.64V262.48M308.65 259.82V261.64M309.05 258.68V260.82" stroke="#26a69a" stroke-width="0.75"/>
<path d="M309.46 248.37V276.5M309.86 248.76V265.01" stroke="#ef5350" stroke-width="0.5"/>
<path d="M309.46 258.68V260.38M309.86 259.38V263.77" stroke="#ef5350" stroke-width="0.75"/>
<path d="M310.27 256.85V265.79M310.67 252.48V260.64M311.08 250.67V262.53" stroke="#26a69a" stroke-width="0.5"/>
<path d="M310.27 259.39V263.77M310.67 257.16V260.39M311.08 252.71V258.16" stroke="#26a69a" stroke-width="0.75"/>
<path d="M311.48 248.77V272.6" stroke="#ef5350" stroke-width="0.5"/>
<path d="M311.48 252.71V253.71" stroke="#ef5350" stroke-width="0.75"/>
<path d="M311.89 241.27V254.01M312.29 234.8V250.94M312.7 233.16V249.42M313.11 230.35V242.58M313.51 231.04V240.42" stroke="#26a69a" stroke-width="0.5"/>
<path d="M311.89 247.26V253.71M312.29 241.08V248.26M312.7 240.93V242.08M313.11 236.57V241.93M313.51 231.67V237.57" stroke="#26a69a" stroke-width="0.75"/>
<path d="M313.92 222.87V249.75" stroke="#ef5350" stroke-width="0.5"/>
<path d="M313.92 231.67V243.24" stroke="#ef5350" stroke-width="0.75"/>
<path d="M314.32 237.33V253M314.73 181.83V244.74M315.13 137V201.61M315.54 145.87V164.07M315.94 144.05V156.93" stroke="#26a69a" stroke-width="0.5"/>
<path d="M314.32 240.71V243.24M314.73 191.73V241.71M315.13 159.45V192.73M315.54 151.64V160.45M315.94 146.92V152.64" stroke="#26a69a" stroke-width="0.75"/>
<path d="M316.35 142.01V167.1" stroke="#ef5350" stroke-width="0.5"/>
<path d="M316.35 146.92V160.27" stroke="#ef5350" stroke-width="0.75"/>
<path d="M316.75 152.16V161.54" stroke="#26a69a" stroke-width="0.5"/>
<path d="M316.75 154.78V160.27" stroke="#26a69a" stroke-width="0.75"/>
<path d="M317.16 152.44V157.3" stroke="#ef5350" stroke-width="0.5"/>
<path d="M317.16 154.78V156.3" stroke="#ef5350" stroke-width="0.75"/>
<path d="M317.56 151.09V160.71M317.97 142.63V155.82M318.37 143.72V156.93" stroke="#26a69a" stroke-width="0.5"/>
<path d="M317.56 151.62V156.3M317.97 149.11V152.62M318.37 147.17V150.11" stroke="#26a69a" stroke-width="0.75"/>
<path d="M318.78 142.9V166.07" stroke="#ef5350" stroke-width="0.5"/>
<path d="M318.78 147.17V159.75" stroke="#ef5350" stroke-width="0.75"/>
<path d="M319.18 151.57V168M319.59 146.97V161.89M319.99 137.13V153.62M320.4 118.32V148.79M320.8 115.41V126.7M321.21 95.97V121.2M321.61 74.09V105.29M322.02 59.6V82.45M322.42 58.47V67.34M322.83 53.4V69.3M323.24 44.91V67.32M323.64 22.2V53.97" stroke="#26a69a" stroke-width="0.5"/>
<path d="M319.18 158.7V159.75M319.59 150.3V159.7M319.99 140.86V151.3M320.4 122.41V141.86M320.8 116V123.41M321.21 99.77V117M321.61 80.56V100.77M322.02 63.52V81.56M322.42 59.7V64.52M322.83 54.7V60.7M323.24 48.11V55.7M323.64 32.27V49.11" stroke="#26a69a" stroke-width="0.75"/>
<path d="M324.05 27.06V42.38M324.45 27.14V50.85" stroke="#ef5350" stroke-width="0.5"/>
<path d="M324.05 32.27V35.36M324.45 34.36V49.77" stroke="#ef5350" stroke-width="0.75"/>
<path d="M324.86 47.77V49.85" stroke="#26a69a" stroke-width="0.5"/>
<path d="M324.86 47.98V49.77" stroke="#26a69a" stroke-width="0.75"/>
<path d="M325.26 44.62V58.33M325.67 55.5V63.31" stroke="#ef5350" stroke-width="0.5"/>
<path d="M325.26 47.98V57.27M325.67 56.27V62.47" stroke="#ef5350" stroke-width="0.75"/>
<path d="M326.07 55.55V63.09" stroke="#26a69a" stroke-width="0.5"/>
<path d="M326.07 57.99V62.47" stroke="#26a69a" stroke-width="0.75"/>
<path d="M326.48 55.7V69.18" stroke="#ef5350" stroke-width="0.5"/>
<path d="M326.48 57.99V65.01" stroke="#ef5350" stroke-width="0.75"/>
<path d="M326.88 58.29V65.49" stroke="#26a69a" stroke-width="0.5"/>
<path d="M326.88 59.93V65.01" stroke="#26a69a" stroke-width="0.75"/>
<path d="M327.29 55.08V72.01M327.69 65.13V72.04M328.1 62.43V73.93M328.5 68.4V82.25M328.91 74.96V93.61" stroke="#ef5350" stroke-width="0.5"/>
<path d="M327.29 59.93V66.62M327.69 65.62V68.26M328.1 67.26V71.64M328.5 70.64V78.16M328.91 77.16V85.51" stroke="#ef5350" stroke-width="0.75"/>
<path d="M329.31 74.12V92.75" stroke="#26a69a" stroke-width="0.5"/>
<path d="M329.31 77.5V85.51" stroke="#26a69a" stroke-width="0.75"/>
<path d="M329.72 76.49V88.42M330.12 82.04V98.54" stroke="#ef5350" stroke-width="0.5"/>
<path d="M329.72 77.5V85.89M330.12 84.89V96.36" stroke="#ef5350" stroke-width="0.75"/>
<path d="M330.53 91.28V98.72" stroke="#26a69a" stroke-width="0.5"/>
<path d="M330.53 93.32V96.36" stroke="#26a69a" stroke-width="0.75"/>
<path d="M330.93 86.69V105.17M331.34 100.83V143.8" stroke="#ef5350" stroke-width="0.5"/>
<path d="M330.93 93.32V102.72M331.34 101.72V106.16" stroke="#ef5350" stroke-width="0.75"/>
<path d="M331.74 91.94V112.49M332.15 92.4V102.87M332.55 80.95V104.98" stroke="#26a69a" stroke-width="0.5"/>
<path d="M331.74 98.99V106.16M332.15 94.1V99.99M332.55 83.37V95.1" stroke="#26a69a" stroke-width="0.75"/>
<path d="M332.96 82.15V94.94" stroke="#ef5350" stroke-width="0.5"/>
<path d="M332.96 83.37V90.65" stroke="#ef5350" stroke-width="0.75"/>
<path d="M333.37 74.91V92.57" stroke="#26a69a" stroke-width="0.5"/>
<path d="M333.37 80.44V90.65" stroke="#26a69a" stroke-width="0.75"/>
<path d="M333.77 77.5V85.66M334.18 81.4V87.05M334.58 81.35V88.38M334.99 86.66V96.62M335.39 90.21V94.56" stroke="#ef5350" stroke-width="0.5"/>
<path d="M333.77 80.44V85.01M334.18 84.01V86.42M334.58 85.42V87.88M334.99 86.88V94.31M335.39 93.31V94.42" stroke="#ef5350" stroke-width="0.75"/>
<path d="M335.8 90.94V98.77" stroke="#26a69a" stroke-width="0.5"/>
<path d="M335.8 92.87V94.42" stroke="#26a69a" stroke-width="0.75"/>
<path d="M336.2 89.04V102.03M336.61 95.35V104.32" stroke="#ef5350" stroke-width="0.5"/>
<path d="M336.2 92.87V98.05M336.61 97.05V102.56" stroke="#ef5350" stroke-width="0.75"/>
<path d="M337.01 96.44V104.31" stroke="#26a69a" stroke-width="0.5"/>
<path d="M337.01 97.29V102.56" stroke="#26a69a" stroke-width="0.75"/>
<path d="M337.42 93.82V104.5M337.82 92.81V110.05" stroke="#ef5350" stroke-width="0.5"/>
<path d="M337.42 97.29V101.03M337.82 100.03V106.75" stroke="#ef5350" stroke-width="0.75"/>
<path d="M338.23 101.74V108.86M338.63 99.27V107.25" stroke="#26a69a" stroke-width="0.5"/>
<path d="M338.23 105.26V106.75M338.63 102.83V106.26" stroke="#26a69a" stroke-width="0.75"/>
<path d="M339.04 101.18V123.16M339.44 118.32V126.49" stroke="#ef5350" stroke-width="0.5"/>
<path d="M339.04 102.83V120.55M339.44 119.55V123.9" stroke="#ef5350" stroke-width="0.75"/>
<path d="M339.85 108.54V125.99" stroke="#26a69a" stroke-width="0.5"/>
<path d="M339.85 112.11V123.9" stroke="#26a69a" stroke-width="0.75"/>
<path d="M340.25 109.77V122.61M340.66 112.86V130.62M341.06 120.22V132.29M341.47 128.44V134.72M341.87 125.14V137.34M342.28 131.16V203.5M342.68 131.46V149.99M343.09 142.63V156.79" stroke="#ef5350" stroke-width="0.5"/>
<path d="M340.25 112.11V121.23M340.66 120.23V124.34M341.06 123.34V129.57M341.47 128.57V132.16M341.87 131.16V132.59M342.28 131.59V134.95M342.68 133.95V145.59M343.09 144.59V153.37" stroke="#ef5350" stroke-width="0.75"/>
<path d="M343.5 139.03V158.96M343.9 132.51V149.25" stroke="#26a69a" stroke-width="0.5"/>
<path d="M343.5 142.54V153.37M343.9 140.05V143.54" stroke="#26a69a" stroke-width="0.75"/>
<path d="M344.31 117.8V182.4" stroke="#ef5350" stroke-width="0.5"/>
<path d="M344.31 140.05V141.69" stroke="#ef5350" stroke-width="0.75"/>
<path d="M344.71 128.11V144.55" stroke="#26a69a" stroke-width="0.5"/>
<path d="M344.71 131.45V141.69" stroke="#26a69a" stroke-width="0.75"/>
<path d="M345.12 130.35V142.98" stroke="#ef5350" stroke-width="0.5"/>
<path d="M345.12 131.45V135.48" stroke="#ef5350" stroke-width="0.75"/>
<path d="M345.52 127.37V139.49" stroke="#26a69a" stroke-width="0.5"/>
<path d="M345.52 131.61V135.48" stroke="#26a69a" stroke-width="0.75"/>
<path d="M345.93 127.32V150.41" stroke="#ef5350" stroke-width="0.5"/>
<path d="M345.93 131.61V139.8" stroke="#ef5350" stroke-width="0.75"/>
<path d="M346.33 135.38V142.16M346.74 134.96V138.86" stroke="#26a69a" stroke-width="0.5"/>
<path d="M346.33 136.48V139.8M346.74 135.8V137.48" stroke="#26a69a" stroke-width="0.75"/>
<path d="M347.14 134.48V140.65M347.55 135.6V139.73" stroke="#ef5350" stroke-width="0.5"/>
<path d="M347.14 135.8V137.86M347.55 136.86V138.55" stroke="#ef5350" stroke-width="0.75"/>
<path d="M347.95 134.1V143.01" stroke="#26a69a" stroke-width="0.5"/>
<path d="M347.95 136.09V138.55" stroke="#26a69a" stroke-width="0.75"/>
<path d="M348.36 132.44V143.05M348.76 139.1V152.79M349.17 144.95V151.12M349.57 148.19V155.89" stroke="#ef5350" stroke-width="0.5"/>
<path d="M348.36 136.09V141.47M348.76 140.47V146.01M349.17 145.01V149.75M349.57 148.75V153.71" stroke="#ef5350" stroke-width="0.75"/>
<path d="M349.98 148.49V156.07" stroke="#26a69a" stroke-width="0.5"/>
<path d="M349.98 148.78V153.71" stroke="#26a69a" stroke-width="0.75"/>
<path d="M350.38 146.1V160.66" stroke="#ef5350" stroke-width="0.5"/>
<path d="M350.38 148.78V152.58" stroke="#ef5350" stroke-width="0.75"/>
<path d="M350.79 141.15V155.67" stroke="#26a69a" stroke-width="0.5"/>
<path d="M350.79 145.12V152.58" stroke="#26a69a" stroke-width="0.75"/>
<path d="M351.19 141.53V162.96" stroke="#ef5350" stroke-width="0.5"/>
<path d="M351.19 145.12V156.57" stroke="#ef5350" stroke-width="0.75"/>
<path d="M351.6 141.6V160.46" stroke="#26a69a" stroke-width="0.5"/>
<path d="M351.6 147.63V156.57" stroke="#26a69a" stroke-width="0.75"/>
<path d="M352 141.71V152.75M352.41 145.94V155.32" stroke="#ef5350" stroke-width="0.5"/>
<path d="M352 147.63V149.43M352.41 148.43V152.63" stroke="#ef5350" stroke-width="0.75"/>
<path d="M352.81 143.32V158.09" stroke="#26a69a" stroke-width="0.5"/>
<path d="M352.81 148.43V152.63" stroke="#26a69a" stroke-width="0.75"/>
<path d="M353.22 143.18V158.09M353.63 148.9V157.17" stroke="#ef5350" stroke-width="0.5"/>
<path d="M353.22 148.43V155.96M353.63 154.96V156.41" stroke="#ef5350" stroke-width="0.75"/>
<path d="M354.03 151.5V161.82" stroke="#26a69a" stroke-width="0.5"/>
<path d="M354.03 152.7V156.41" stroke="#26a69a" stroke-width="0.75"/>
<path d="M354.44 144.41V168.79M354.84 158.42V173.39" stroke="#ef5350" stroke-width="0.5"/>
<path d="M354.44 152.7V161.34M354.84 160.34V165.79" stroke="#ef5350" stroke-width="0.75"/>
<path d="M355.25 156.72V201.6" stroke="#26a69a" stroke-width="0.5"/>
<path d="M355.25 159.34V165.79" stroke="#26a69a" stroke-width="0.75"/>
<path d="M355.65 154.13V176.29M356.06 167.97V178.83M356.46 173.51V188.09M356.87 179.18V190.98M357.27 177.26V185.52" stroke="#ef5350" stroke-width="0.5"/>
<path d="M355.65 159.34V173.89M356.06 172.89V178.85M356.46 177.85V184.95M356.87 183.95V185.32M357.27 184.32V185.56" stroke="#ef5350" stroke-width="0.75"/>
<path d="M357.68 170.23V186.07" stroke="#26a69a" stroke-width="0.5"/>
<path d="M357.68 178.53V185.56" stroke="#26a69a" stroke-width="0.75"/>
<path d="M358.08 174.49V185.09" stroke="#ef5350" stroke-width="0.5"/>
<path d="M358.08 178.53V180.68" stroke="#ef5350" stroke-width="0.75"/>
<path d="M358.49 175.49V183.59" stroke="#26a69a" stroke-width="0.5"/>
<path d="M358.49 175.77V180.68" stroke="#26a69a" stroke-width="0.75"/>
<path d="M358.89 174.51V179.48" stroke="#ef5350" stroke-width="0.5"/>
<path d="M358.89 175.77V179.22" stroke="#ef5350" stroke-width="0.75"/>
<path d="M359.3 172.46V184.74" stroke="#26a69a" stroke-width="0.5"/>
<path d="M359.3 173.63V179.22" stroke="#26a69a" stroke-width="0.75"/>
<path d="M359.7 171.49V177.15M360.11 173.77V187.61" stroke="#ef5350" stroke-width="0.5"/>
<path d="M359.7 173.63V176.75M360.11 175.75V182.64" stroke="#ef5350" stroke-width="0.75"/>
<path d="M360.51 178.16V188M360.92 177.93V180.69M361.32 176.15V180.49" stroke="#26a69a" stroke-width="0.5"/>
<path d="M360.51 179.34V182.64M360.92 178.82V180.34M361.32 177.29V179.82" stroke="#26a69a" stroke-width="0.75"/>
<path d="M361.73 174.91V183.22M362.13 176.2V188.46M362.54 180.6V189.33" stroke="#ef5350" stroke-width="0.5"/>
<path d="M361.73 177.29V180.13M362.13 179.13V183.59M362.54 182.59V186.42" stroke="#ef5350" stroke-width="0.75"/>
<path d="M362.94 183.89V188.25" stroke="#26a69a" stroke-width="0.5"/>
<path d="M362.94 184.94V186.42" stroke="#26a69a" stroke-width="0.75"/>
<path d="M363.35 183.49V190.64" stroke="#ef5350" stroke-width="0.5"/>
<path d="M363.35 184.94V187.07" stroke="#ef5350" stroke-width="0.75"/>
<path d="M363.76 177.64V190.25" stroke="#26a69a" stroke-width="0.5"/>
<path d="M363.76 185.88V187.07" stroke="#26a69a" stroke-width="0.75"/>
<path d="M364.16 183.28V192.25" stroke="#ef5350" stroke-width="0.5"/>
<path d="M364.16 185.88V191.9" stroke="#ef5350" stroke-width="0.75"/>
<path d="M364.57 186.8V193.47" stroke="#26a69a" stroke-width="0.5"/>
<path d="M364.57 187.69V191.9" stroke="#26a69a" stroke-width="0.75"/>
<path d="M364.97 185.2V191.44M365.38 187.58V199.11" stroke="#ef5350" stroke-width="0.5"/>
<path d="M364.97 187.69V189.77M365.38 188.77V195.23" stroke="#ef5350" stroke-width="0.75"/>
<path d="M365.78 193.53V195.27" stroke="#26a69a" stroke-width="0.5"/>
<path d="M365.78 193.76V195.23" stroke="#26a69a" stroke-width="0.75"/>
<path d="M366.19 190.89V199.29M366.59 192.13V197.89M367 195.12V207.73M367.4 194.67V210.8" stroke="#ef5350" stroke-width="0.5"/>
<path d="M366.19 193.76V195.65M366.59 194.65V196.78M367 195.78V199.52M367.4 198.52V203.72" stroke="#ef5350" stroke-width="0.75"/>
<path d="M367.81 193.85V210.72M368.21 188.97V202.02" stroke="#26a69a" stroke-width="0.5"/>
<path d="M367.81 198.47V203.72M368.21 190.83V199.47" stroke="#26a69a" stroke-width="0.75"/>
<path d="M368.62 188V193.21" stroke="#ef5350" stroke-width="0.5"/>
<path d="M368.62 190.83V192.81" stroke="#ef5350" stroke-width="0.75"/>
<path d="M369.02 183.66V198.4M369.43 172.27V191.98M369.83 173.77V181.29M370.24 172.07V180.86M370.64 171.78V175.84" stroke="#26a69a" stroke-width="0.5"/>
<path d="M369.02 188.39V192.81M369.43 177.46V189.39M369.83 177.13V178.46M370.24 174.36V178.13M370.64 174.22V175.36" stroke="#26a69a" stroke-width="0.75"/>
<path d="M371.05 171.65V182.47M371.45 171.66V181.66" stroke="#ef5350" stroke-width="0.5"/>
<path d="M371.05 174.22V178.19M371.45 177.19V179.57" stroke="#ef5350" stroke-width="0.75"/>
<path d="M371.86 170.25V181.06" stroke="#26a69a" stroke-width="0.5"/>
<path d="M371.86 173.29V179.57" stroke="#26a69a" stroke-width="0.75"/>
<path d="M372.26 166.35V180.96" stroke="#ef5350" stroke-width="0.5"/>
<path d="M372.26 173.29V176.4" stroke="#ef5350" stroke-width="0.75"/>
<path d="M372.67 163.95V180.49" stroke="#26a69a" stroke-width="0.5"/>
<path d="M372.67 170.66V176.4" stroke="#26a69a" stroke-width="0.75"/>
<path d="M373.07 170.23V185.34" stroke="#ef5350" stroke-width="0.5"/>
<path d="M373.07 170.66V178.74" stroke="#ef5350" stroke-width="0.75"/>
<path d="M373.48 164.29V184.27M373.89 166.91V170.14M374.29 155.87V173.6M374.7 152V162.72M375.1 143.84V162.48M375.51 123.36V157.72M375.91 120.58V130.59M376.32 110.4V127.14" stroke="#26a69a" stroke-width="0.5"/>
<path d="M373.48 169.07V178.74M373.89 167.85V170.07M374.29 157.14V168.85M374.7 154.15V158.14M375.1 150V155.15M375.51 127.58V151M375.91 121.18V128.58M376.32 114.36V122.18" stroke="#26a69a" stroke-width="0.75"/>
<path d="M376.72 114.16V116.34M377.13 111.53V117.61M377.53 111.79V129.47" stroke="#ef5350" stroke-width="0.5"/>
<path d="M376.72 114.36V115.69M377.13 114.69V116.07M377.53 115.07V125.2" stroke="#ef5350" stroke-width="0.75"/>
<path d="M377.94 116.51V127.35M378.34 113.37V124.91" stroke="#26a69a" stroke-width="0.5"/>
<path d="M377.94 120.15V125.2M378.34 117.01V121.15" stroke="#26a69a" stroke-width="0.75"/>
<path d="M378.75 116.3V130.99" stroke="#ef5350" stroke-width="0.5"/>
<path d="M378.75 117.01V125.96" stroke="#ef5350" stroke-width="0.75"/>
<path d="M379.15 112V129.5" stroke="#26a69a" stroke-width="0.5"/>
<path d="M379.15 117.02V125.96" stroke="#26a69a" stroke-width="0.75"/>
<path d="M379.56 108.88V129.54" stroke="#ef5350" stroke-width="0.5"/>
<path d="M379.56 117.02V123.99" stroke="#ef5350" stroke-width="0.75"/>
<path d="M379.96 114.42V126.07" stroke="#26a69a" stroke-width="0.5"/>
<path d="M379.96 116.89V123.99" stroke="#26a69a" stroke-width="0.75"/>
<path d="M380.37 112.02V122.11M380.77 112.53V124.17" stroke="#ef5350" stroke-width="0.5"/>
<path d="M380.37 116.89V118.76M380.77 117.76V123.37" stroke="#ef5350" stroke-width="0.75"/>
<path d="M381.18 120.85V128.02M381.58 115.85V122.08M381.99 113.12V122.08" stroke="#26a69a" stroke-width="0.5"/>
<path d="M381.18 121.05V123.37M381.58 118.77V122.05M381.99 118.08V119.77" stroke="#26a69a" stroke-width="0.75"/>
<path d="M382.39 110.86V129.8" stroke="#ef5350" stroke-width="0.5"/>
<path d="M382.39 118.08V126.12" stroke="#ef5350" stroke-width="0.75"/>
<path d="M382.8 122.07V126.55M383.2 117.99V126.29" stroke="#26a69a" stroke-width="0.5"/>
<path d="M382.8 123.45V126.12M383.2 118.87V124.45" stroke="#26a69a" stroke-width="0.75"/>
<path d="M383.61 117.95V127.89" stroke="#ef5350" stroke-width="0.5"/>
<path d="M383.61 118.87V124.87" stroke="#ef5350" stroke-width="0.75"/>
<path d="M384.02 120.46V126.95M384.42 119.9V126.96M384.83 96.61V127.81M385.23 104.1V114.72" stroke="#26a69a" stroke-width="0.5"/>
<path d="M384.02 123.53V124.87M384.42 121.4V124.53M384.83 108.61V122.4M385.23 108.59V109.61" stroke="#26a69a" stroke-width="0.75"/>
<path d="M385.64 101.7V118.17M386.04 112.46V116.69M386.45 109.35V119.45" stroke="#ef5350" stroke-width="0.5"/>
<path d="M385.64 108.59V113.48M386.04 112.48V114.98M386.45 113.98V119.23" stroke="#ef5350" stroke-width="0.75"/>
<path d="M386.85 114.68V148.2" stroke="#26a69a" stroke-width="0.5"/>
<path d="M386.85 116.7V119.23" stroke="#26a69a" stroke-width="0.75"/>
<path d="M387.26 112.96V129.9M387.66 125.98V129.54M388.07 126.77V141.31" stroke="#ef5350" stroke-width="0.5"/>
<path d="M387.26 116.7V127.62M387.66 126.62V129.05M388.07 128.05V135.05" stroke="#ef5350" stroke-width="0.75"/>
<path d="M388.47 123.5V136.73" stroke="#26a69a" stroke-width="0.5"/>
<path d="M388.47 125.43V135.05" stroke="#26a69a" stroke-width="0.75"/>
<path d="M388.88 123.92V132.19M389.28 124.15V131.72M389.69 126.86V134.43" stroke="#ef5350" stroke-width="0.5"/>
<path d="M388.88 125.43V128.66M389.28 127.66V130.21M389.69 129.21V133.04" stroke="#ef5350" stroke-width="0.75"/>
<path d="M390.09 123.28V134.2" stroke="#26a69a" stroke-width="0.5"/>
<path d="M390.09 129.15V133.04" stroke="#26a69a" stroke-width="0.75"/>
<path d="M390.5 127.02V138.48" stroke="#ef5350" stroke-width="0.5"/>
<path d="M390.5 129.15V134.92" stroke="#ef5350" stroke-width="0.75"/>
<path d="M390.9 127.26V139.73" stroke="#26a69a" stroke-width="0.5"/>
<path d="M390.9 129.47V134.92" stroke="#26a69a" stroke-width="0.75"/>
<path d="M391.31 122.22V139.95M391.71 133.87V141.85M392.12 135.6V143.65M392.52 140.67V145M392.93 139.27V144.03M393.33 132.72V158.03M393.74 150.33V156.21" stroke="#ef5350" stroke-width="0.5"/>
<path d="M391.31 129.47V137.43M391.71 136.43V137.7M392.12 136.7V141.85M392.52 140.85V141.97M392.93 140.97V143.08M393.33 142.08V154.51M393.74 153.51V155.65" stroke="#ef5350" stroke-width="0.75"/>
<path d="M394.15 151.34V155.93" stroke="#26a69a" stroke-width="0.5"/>
<path d="M394.15 153.41V155.65" stroke="#26a69a" stroke-width="0.75"/>
<path d="M394.55 150.06V160.81M394.96 150.89V166.95" stroke="#ef5350" stroke-width="0.5"/>
<path d="M394.55 153.41V157.44M394.96 156.44V160.53" stroke="#ef5350" stroke-width="0.75"/>
<path d="M395.36 149.41V164.95M395.77 149.85V162.31M396.17 151.01V153.47M396.58 146.46V152.64M396.98 138.75V157.07M397.39 134.79V144.46" stroke="#26a69a" stroke-width="0.5"/>
<path d="M395.36 152.95V160.53M395.77 152.44V153.95M396.17 151.37V153.44M396.58 148.44V152.37M396.98 142.77V149.44M397.39 134.72V143.77" stroke="#26a69a" stroke-width="0.75"/>
<path d="M397.79 131.44V141.48" stroke="#ef5350" stroke-width="0.5"/>
<path d="M397.79 134.72V141.11" stroke="#ef5350" stroke-width="0.75"/>
<path d="M398.2 126.9V145.29M398.6 132.64V137M399.01 127.58V140.39" stroke="#26a69a" stroke-width="0.5"/>
<path d="M398.2 135.84V141.11M398.6 134.75V136.84M399.01 133.72V135.75" stroke="#26a69a" stroke-width="0.75"/>
<path d="M399.41 130.72V136.13" stroke="#ef5350" stroke-width="0.5"/>
<path d="M399.41 133.72V135.94" stroke="#ef5350" stroke-width="0.75"/>
<path d="M399.82 134.42V136.98M400.22 130.54V139.05" stroke="#26a69a" stroke-width="0.5"/>
<path d="M399.82 134.67V135.94M400.22 134.64V135.67" stroke="#26a69a" stroke-width="0.75"/>
<path d="M400.63 131.13V141.92M401.03 132.26V146" stroke="#ef5350" stroke-width="0.5"/>
<path d="M400.63 134.64V137.93M401.03 136.93V139.13" stroke="#ef5350" stroke-width="0.75"/>
<path d="M401.44 136.98V143.27M401.84 135.49V140.2" stroke="#26a69a" stroke-width="0.5"/>
<path d="M401.44 137.47V139.13M401.84 135.42V138.47" stroke="#26a69a" stroke-width="0.75"/>
<path d="M402.25 130.34V143.92" stroke="#ef5350" stroke-width="0.5"/>
<path d="M402.25 135.42V140.51" stroke="#ef5350" stroke-width="0.75"/>
<path d="M402.65 129.65V142.88" stroke="#26a69a" stroke-width="0.5"/>
<path d="M402.65 133.78V140.51" stroke="#26a69a" stroke-width="0.75"/>
<path d="M403.06 132.48V138.95" stroke="#ef5350" stroke-width="0.5"/>
<path d="M403.06 133.78V138.84" stroke="#ef5350" stroke-width="0.75"/>
<path d="M403.46 131.2V141.43" stroke="#26a69a" stroke-width="0.5"/>
<path d="M403.46 132.06V138.84" stroke="#26a69a" stroke-width="0.75"/>
<path d="M403.87 128.88V137.33M404.28 134.06V138.96" stroke="#ef5350" stroke-width="0.5"/>
<path d="M403.87 132.06V135.26M404.28 134.26V136.56" stroke="#ef5350" stroke-width="0.75"/>
<path d="M404.68 126.66V138.07M405.09 128.99V133.18" stroke="#26a69a" stroke-width="0.5"/>
<path d="M404.68 131.1V136.56M405.09 129.35V132.1" stroke="#26a69a" stroke-width="0.75"/>
<path d="M405.49 125.17V135.77M405.9 124.45V134.72" stroke="#ef5350" stroke-width="0.5"/>
<path d="M405.49 129.35V133.21M405.9 132.21V134.28" stroke="#ef5350" stroke-width="0.75"/>
<path d="M406.3 124.55V137.84M406.71 113.8V128.43" stroke="#26a69a" stroke-width="0.5"/>
<path d="M406.3 126.59V134.28M406.71 120.09V127.59" stroke="#26a69a" stroke-width="0.75"/>
<path d="M407.11 117.46V125.89" stroke="#ef5350" stroke-width="0.5"/>
<path d="M407.11 120.09V121.99" stroke="#ef5350" stroke-width="0.75"/>
<path d="M407.52 117.14V123.23M407.92 119.43V126.9M408.33 107.08V123.72M408.73 101.77V111.48M409.14 93.4V105.81M409.54 89.47V97.93M409.95 81.9V95.04" stroke="#26a69a" stroke-width="0.5"/>
<path d="M407.52 120.71V121.99M407.92 119.6V121.71M408.33 109.9V120.6M408.73 102.15V110.9M409.14 94.68V103.15M409.54 91.1V95.68M409.95 86.98V92.1" stroke="#26a69a" stroke-width="0.75"/>
<path d="M410.35 82.62V94.03M410.76 87.43V96.74M411.16 91.58V99.1M411.57 89.13V99.86" stroke="#ef5350" stroke-width="0.5"/>
<path d="M410.35 86.98V91.73M410.76 90.73V94.49M411.16 93.49V95.77M411.57 94.77V97.51" stroke="#ef5350" stroke-width="0.75"/>
<path d="M411.97 91.92V97.86" stroke="#26a69a" stroke-width="0.5"/>
<path d="M411.97 93.84V97.51" stroke="#26a69a" stroke-width="0.75"/>
<path d="M412.38 85.85V104.49M412.78 98.21V102.9" stroke="#ef5350" stroke-width="0.5"/>
<path d="M412.38 93.84V99.65M412.78 98.65V101.52" stroke="#ef5350" stroke-width="0.75"/>
<path d="M413.19 94.49V104.21" stroke="#26a69a" stroke-width="0.5"/>
<path d="M413.19 99.08V101.52" stroke="#26a69a" stroke-width="0.75"/>
<path d="M413.59 95.51V108.07M414 102.55V103.89" stroke="#ef5350" stroke-width="0.5"/>
<path d="M413.59 99.08V103.62M414 102.62V103.94" stroke="#ef5350" stroke-width="0.75"/>
<path d="M414.41 96.96V107.86" stroke="#26a69a" stroke-width="0.5"/>
<path d="M414.41 100.03V103.94" stroke="#26a69a" stroke-width="0.75"/>
<path d="M414.81 99.52V107.85" stroke="#ef5350" stroke-width="0.5"/>
<path d="M414.81 100.03V105.78" stroke="#ef5350" stroke-width="0.75"/>
<path d="M415.22 92.27V107.52" stroke="#26a69a" stroke-width="0.5"/>
<path d="M415.22 93.83V105.78" stroke="#26a69a" stroke-width="0.75"/>
<path d="M415.62 89.29V106.07" stroke="#ef5350" stroke-width="0.5"/>
<path d="M415.62 93.83V104.66" stroke="#ef5350" stroke-width="0.75"/>
<path d="M416.03 99.55V125.4" stroke="#26a69a" stroke-width="0.5"/>
<path d="M416.03 102.55V104.66" stroke="#26a69a" stroke-width="0.75"/>
<path d="M416.43 98.43V110.09M416.84 104.4V110.57" stroke="#ef5350" stroke-width="0.5"/>
<path d="M416.43 102.55V108.38M416.84 107.38V110.25" stroke="#ef5350" stroke-width="0.75"/>
<path d="M417.24 90.46V112.93" stroke="#26a69a" stroke-width="0.5"/>
<path d="M417.24 93.19V110.25" stroke="#26a69a" stroke-width="0.75"/>
<path d="M417.65 89.29V98.62M418.05 94.79V101.31" stroke="#ef5350" stroke-width="0.5"/>
<path d="M417.65 93.19V98.57M418.05 97.57V100.67" stroke="#ef5350" stroke-width="0.75"/>
<path d="M418.46 98.52V104.57" stroke="#26a69a" stroke-width="0.5"/>
<path d="M418.46 99.13V100.67" stroke="#26a69a" stroke-width="0.75"/>
<path d="M418.86 95.84V104.33" stroke="#ef5350" stroke-width="0.5"/>
<path d="M418.86 99.13V104" stroke="#ef5350" stroke-width="0.75"/>
<path d="M419.27 97.61V110.36" stroke="#26a69a" stroke-width="0.5"/>
<path d="M419.27 99.37V104" stroke="#26a69a" stroke-width="0.75"/>
<path d="M419.67 97.85V116.55M420.08 107.78V118.23M420.48 112.4V121.3M420.89 111.16V119.76M421.29 113.73V122.07" stroke="#ef5350" stroke-width="0.5"/>
<path d="M419.67 99.37V112.41M420.08 111.41V113.99M420.48 112.99V115.42M420.89 114.42V116.05M421.29 115.05V121.08" stroke="#ef5350" stroke-width="0.75"/>
<path d="M421.7 114.73V128.65" stroke="#26a69a" stroke-width="0.5"/>
<path d="M421.7 118.94V121.08" stroke="#26a69a" stroke-width="0.75"/>
<path d="M422.1 117.72V125.33M422.51 119.39V263.8" stroke="#ef5350" stroke-width="0.5"/>
<path d="M422.1 118.94V123.61M422.51 122.61V127.16" stroke="#ef5350" stroke-width="0.75"/>
<path d="M422.91 122.34V134.28" stroke="#26a69a" stroke-width="0.5"/>
<path d="M422.91 124.17V127.16" stroke="#26a69a" stroke-width="0.75"/>
<path d="M423.32 120.69V134.12M423.72 130.03V135.22M424.13 129.64V142.86M424.54 136.72V140.53M424.94 133.27V148.58M425.35 140.56V148.31M425.75 145.6V147.31M426.16 143.18V156.33M426.56 145.57V157.12" stroke="#ef5350" stroke-width="0.5"/>
<path d="M423.32 124.17V131.73M423.72 130.73V133.32M424.13 132.32V139.53M424.54 138.53V139.74M424.94 138.74V143.52M425.35 142.52V146.79M425.75 145.79V147.12M426.16 146.12V151.93M426.56 150.93V156.42" stroke="#ef5350" stroke-width="0.75"/>
<path d="M426.97 147.55V162.77M427.37 146.59V153.39" stroke="#26a69a" stroke-width="0.5"/>
<path d="M426.97 150.32V156.42M427.37 150.18V151.32" stroke="#26a69a" stroke-width="0.75"/>
<path d="M427.78 147.01V165.94M428.18 158.1V166.72" stroke="#ef5350" stroke-width="0.5"/>
<path d="M427.78 150.18V160.83M428.18 159.83V164.95" stroke="#ef5350" stroke-width="0.75"/>
<path d="M428.59 157.34V170.66M428.99 157.61V169.84M429.4 148.94V160.66M429.8 145.84V157.96" stroke="#26a69a" stroke-width="0.5"/>
<path d="M428.59 161.94V164.95M428.99 158V162.94M429.4 150.6V159M429.8 146.72V151.6" stroke="#26a69a" stroke-width="0.75"/>
<path d="M430.21 143.68V151.62" stroke="#ef5350" stroke-width="0.5"/>
<path d="M430.21 146.72V150.38" stroke="#ef5350" stroke-width="0.75"/>
<path d="M430.61 139.5V157.05M431.02 140.62V145.74" stroke="#26a69a" stroke-width="0.5"/>
<path d="M430.61 143.12V150.38M431.02 141.02V144.12" stroke="#26a69a" stroke-width="0.75"/>
<path d="M431.42 131.25V150.02M431.83 144.91V157.15M432.23 153.66V159.71" stroke="#ef5350" stroke-width="0.5"/>
<path d="M431.42 141.02V145.97M431.83 144.97V156.94M432.23 155.94V157.25" stroke="#ef5350" stroke-width="0.75"/>
<path d="M432.64 149.37V161.1" stroke="#26a69a" stroke-width="0.5"/>
<path d="M432.64 151.35V157.25" stroke="#26a69a" stroke-width="0.75"/>
<path d="M433.04 147.48V154.58M433.45 151.34V165.49" stroke="#ef5350" stroke-width="0.5"/>
<path d="M433.04 151.35V154.2M433.45 153.2V158.69" stroke="#ef5350" stroke-width="0.75"/>
<path d="M433.85 153.59V161.38" stroke="#26a69a" stroke-width="0.5"/>
<path d="M433.85 156.71V158.69" stroke="#26a69a" stroke-width="0.75"/>
<path d="M434.26 153.65V165.63" stroke="#ef5350" stroke-width="0.5"/>
<path d="M434.26 156.71V164.09" stroke="#ef5350" stroke-width="0.75"/>
<path d="M434.67 157.51V164.94M435.07 158.3V164.23" stroke="#26a69a" stroke-width="0.5"/>
<path d="M434.67 160.43V164.09M435.07 160.03V161.43" stroke="#26a69a" stroke-width="0.75"/>
<path d="M435.48 157.23V173.66" stroke="#ef5350" stroke-width="0.5"/>
<path d="M435.48 160.03V171.33" stroke="#ef5350" stroke-width="0.75"/>
<path d="M435.88 165.96V172.47" stroke="#26a69a" stroke-width="0.5"/>
<path d="M435.88 169.07V171.33" stroke="#26a69a" stroke-width="0.75"/>
<path d="M436.29 162.78V176.87M436.69 171.2V177.09M437.1 173.86V187.5M437.5 175.07V183.98" stroke="#ef5350" stroke-width="0.5"/>
<path d="M436.29 169.07V174.7M436.69 173.7V176.6M437.1 175.6V178.33M437.5 177.33V179.8" stroke="#ef5350" stroke-width="0.75"/>
<path d="M437.91 173.6V181.17M438.31 167.63V176.07M438.72 164.22V172.24" stroke="#26a69a" stroke-width="0.5"/>
<path d="M437.91 174.99V179.8M438.31 170.82V175.99M438.72 168.72V171.82" stroke="#26a69a" stroke-width="0.75"/>
<path d="M439.12 166.73V176.62M439.53 169.34V176.81M439.93 169.27V181.42M440.34 172.56V181.67M440.74 178.77V185.19M441.15 182.68V188.94M441.55 184.23V191.54M441.96 181.61V195.51M442.36 190.79V222.2M442.77 190.98V203.07M443.17 200.69V208.51M443.58 204.91V216.77" stroke="#ef5350" stroke-width="0.5"/>
<path d="M439.12 168.72V172.55M439.53 171.55V175.48M439.93 174.48V179.01M440.34 178.01V180.8M440.74 179.8V184.23M441.15 183.23V186.73M441.55 185.73V188.28M441.96 187.28V193.14M442.36 192.14V194.54M442.77 193.54V202.71M443.17 201.71V207.38M443.58 206.38V209.96" stroke="#ef5350" stroke-width="0.75"/>
<path d="M443.98 203.83V210.07M444.39 201.94V210.35" stroke="#26a69a" stroke-width="0.5"/>
<path d="M443.98 207.12V209.96M444.39 206.66V208.12" stroke="#26a69a" stroke-width="0.75"/>
<path d="M444.8 200.94V213.63" stroke="#ef5350" stroke-width="0.5"/>
<path d="M444.8 206.66V209.88" stroke="#ef5350" stroke-width="0.75"/>
<path d="M445.2 205.2V211.17" stroke="#26a69a" stroke-width="0.5"/>
<path d="M445.2 206.42V209.88" stroke="#26a69a" stroke-width="0.75"/>
<path d="M445.61 205.83V212" stroke="#ef5350" stroke-width="0.5"/>
<path d="M445.61 206.42V208.75" stroke="#ef5350" stroke-width="0.75"/>
<path d="M446.01 205.94V213.41M446.42 203.99V210.54" stroke="#26a69a" stroke-width="0.5"/>
<path d="M446.01 206.84V208.75M446.42 204.89V207.84" stroke="#26a69a" stroke-width="0.75"/>
<path d="M446.82 202.22V208.07" stroke="#ef5350" stroke-width="0.5"/>
<path d="M446.82 204.89V207.32" stroke="#ef5350" stroke-width="0.75"/>
<path d="M447.23 195.36V208.9M447.63 196.36V203.74M448.04 190.31V201.16M448.44 184.39V195.51M448.85 177.4V192.92M449.25 185.39V189.57M449.66 182.81V190.87" stroke="#26a69a" stroke-width="0.5"/>
<path d="M447.23 200.88V207.32M447.63 197.66V201.88M448.04 192.32V198.66M448.44 187.59V193.32M448.85 187.41V188.59M449.25 187.19V188.41M449.66 185.48V188.19" stroke="#26a69a" stroke-width="0.75"/>
<path d="M450.06 180.18V190.49M450.47 184.9V195.39M450.87 192.6V198.91M451.28 192.81V205.49" stroke="#ef5350" stroke-width="0.5"/>
<path d="M450.06 185.48V190.04M450.47 189.04V194.19M450.87 193.19V196.34M451.28 195.34V200.25" stroke="#ef5350" stroke-width="0.75"/>
<path d="M451.68 192.47V201.02M452.09 192V195.24" stroke="#26a69a" stroke-width="0.5"/>
<path d="M451.68 194.21V200.25M452.09 193.52V195.21" stroke="#26a69a" stroke-width="0.75"/>
<path d="M452.49 192.42V195.84M452.9 192.43V202.21M453.3 192.47V198.9M453.71 197.8V200.32M454.11 196.28V203.67M454.52 201.87V206.94M454.93 201.63V209.39M455.33 204.58V229.4" stroke="#ef5350" stroke-width="0.5"/>
<path d="M452.49 193.52V194.9M452.9 193.9V198.92M453.3 197.92V198.96M453.71 197.96V199.65M454.11 198.65V203.17M454.52 202.17V204.81M454.93 203.81V206.88M455.33 205.88V214.89" stroke="#ef5350" stroke-width="0.75"/>
<path d="M455.74 204.16V218.11" stroke="#26a69a" stroke-width="0.5"/>
<path d="M455.74 209.32V214.89" stroke="#26a69a" stroke-width="0.75"/>
<path d="M456.14 209.5V211.61M456.55 207.29V214.54" stroke="#ef5350" stroke-width="0.5"/>
<path d="M456.14 209.32V210.56M456.55 209.56V214.25" stroke="#ef5350" stroke-width="0.75"/>
<path d="M456.95 205.81V217.91M457.36 206.45V210.98M457.76 203.38V212.27" stroke="#26a69a" stroke-width="0.5"/>
<path d="M456.95 209.74V214.25M457.36 206.52V210.74M457.76 205.14V207.52" stroke="#26a69a" stroke-width="0.75"/>
<path d="M458.17 200.12V212.18M458.57 207.56V217.48" stroke="#ef5350" stroke-width="0.5"/>
<path d="M458.17 205.14V210.44M458.57 209.44V215.18" stroke="#ef5350" stroke-width="0.75"/>
<path d="M458.98 210.6V215.3" stroke="#26a69a" stroke-width="0.5"/>
<path d="M458.98 213.64V215.18" stroke="#26a69a" stroke-width="0.75"/>
<path d="M459.38 212.11V220.12" stroke="#ef5350" stroke-width="0.5"/>
<path d="M459.38 213.64V217.17" stroke="#ef5350" stroke-width="0.75"/>
<path d="M459.79 212.16V219.07" stroke="#26a69a" stroke-width="0.5"/>
<path d="M459.79 214.53V217.17" stroke="#26a69a" stroke-width="0.75"/>
<path d="M460.19 210.86V218.51" stroke="#ef5350" stroke-width="0.5"/>
<path d="M460.19 214.53V217.55" stroke="#ef5350" stroke-width="0.75"/>
<path d="M460.6 215.19V218.39" stroke="#26a69a" stroke-width="0.5"/>
<path d="M460.6 215.85V217.55" stroke="#26a69a" stroke-width="0.75"/>
<path d="M461 215.28V219.29M461.41 216.41V224.75" stroke="#ef5350" stroke-width="0.5"/>
<path d="M461 215.85V219.14M461.41 218.14V221.99" stroke="#ef5350" stroke-width="0.75"/>
<path d="M461.81 214.41V227.16" stroke="#26a69a" stroke-width="0.5"/>
<path d="M461.81 215.55V221.99" stroke="#26a69a" stroke-width="0.75"/>
<path d="M462.22 213.32V225.18M462.62 218.56V227.08" stroke="#ef5350" stroke-width="0.5"/>
<path d="M462.22 215.55V221.33M462.62 220.33V223.65" stroke="#ef5350" stroke-width="0.75"/>
<path d="M463.03 221.06V225.63M463.43 215.45V224.69" stroke="#26a69a" stroke-width="0.5"/>
<path d="M463.03 222.12V223.65M463.43 220.46V223.12" stroke="#26a69a" stroke-width="0.75"/>
<path d="M463.84 214.32V224.46M464.24 219.63V223.31" stroke="#ef5350" stroke-width="0.5"/>
<path d="M463.84 220.46V221.73M464.24 220.73V222.1" stroke="#ef5350" stroke-width="0.75"/>
<path d="M464.65 212.22V223.09M465.06 206.44V215.67M465.46 197.87V212.17" stroke="#26a69a" stroke-width="0.5"/>
<path d="M464.65 214.06V222.1M465.06 209.5V215.06M465.46 201.29V210.5" stroke="#26a69a" stroke-width="0.75"/>
<path d="M465.87 197.27V211.08" stroke="#ef5350" stroke-width="0.5"/>
<path d="M465.87 201.29V208.06" stroke="#ef5350" stroke-width="0.75"/>
<path d="M466.27 196.64V208.96M466.68 193.7V203.39M467.08 189.95V200.33M467.49 192.15V198.32M467.89 179.66V196.15M468.3 181.29V187.97M468.7 161.4V187.69M469.11 173.18V180.92M469.51 174.55V177.37M469.92 167.59V175.96" stroke="#26a69a" stroke-width="0.5"/>
<path d="M466.27 200.68V208.06M466.68 198.32V201.68M467.08 193.71V199.32M467.49 192.35V194.71M467.89 186.05V193.35M468.3 182.09V187.05M468.7 177.65V183.09M469.11 175.34V178.65M469.51 174.58V176.34M469.92 169.78V175.58" stroke="#26a69a" stroke-width="0.75"/>
<path d="M470.32 169.44V175.91" stroke="#ef5350" stroke-width="0.5"/>
<path d="M470.32 169.78V173.87" stroke="#ef5350" stroke-width="0.75"/>
<path d="M470.73 163V175.59M471.13 159.79V170.11" stroke="#26a69a" stroke-width="0.5"/>
<path d="M470.73 165.88V173.87M471.13 164.47V166.88" stroke="#26a69a" stroke-width="0.75"/>
<path d="M471.54 162.46V175.09M471.94 168.35V173.52M472.35 170.28V181.39M472.75 173.65V187.37M473.16 180.68V192.02" stroke="#ef5350" stroke-width="0.5"/>
<path d="M471.54 164.47V171.26M471.94 170.26V173.56M472.35 172.56V179.54M472.75 178.54V184.61M473.16 183.61V189.22" stroke="#ef5350" stroke-width="0.75"/>
<path d="M473.56 185.25V191.25" stroke="#26a69a" stroke-width="0.5"/>
<path d="M473.56 187.35V189.22" stroke="#26a69a" stroke-width="0.75"/>
<path d="M473.97 180.51V193.76M474.37 190.75V203.19" stroke="#ef5350" stroke-width="0.5"/>
<path d="M473.97 187.35V192.44M474.37 191.44V197.73" stroke="#ef5350" stroke-width="0.75"/>
<path d="M474.78 192.6V197.61M475.19 190.94V200.37" stroke="#26a69a" stroke-width="0.5"/>
<path d="M474.78 196.69V197.73M475.19 195.97V197.69" stroke="#26a69a" stroke-width="0.75"/>
<path d="M475.59 194.54V200.15" stroke="#ef5350" stroke-width="0.5"/>
<path d="M475.59 195.97V198.79" stroke="#ef5350" stroke-width="0.75"/>
<path d="M476 194.19V206.3M476.4 194.79V202.05" stroke="#26a69a" stroke-width="0.5"/>
<path d="M476 197.59V198.79M476.4 197.26V198.59" stroke="#26a69a" stroke-width="0.75"/>
<path d="M476.81 194.49V200.21" stroke="#ef5350" stroke-width="0.5"/>
<path d="M476.81 197.26V199.58" stroke="#ef5350" stroke-width="0.75"/>
<path d="M477.21 194.45V204.17M477.62 187.09V199.6" stroke="#26a69a" stroke-width="0.5"/>
<path d="M477.21 196.18V199.58M477.62 190.35V197.18" stroke="#26a69a" stroke-width="0.75"/>
<path d="M478.02 184.53V197.76" stroke="#ef5350" stroke-width="0.5"/>
<path d="M478.02 190.35V196.37" stroke="#ef5350" stroke-width="0.75"/>
<path d="M478.43 193.36V198.16" stroke="#26a69a" stroke-width="0.5"/>
<path d="M478.43 194.46V196.37" stroke="#26a69a" stroke-width="0.75"/>
<path d="M478.83 188.41V203.6" stroke="#ef5350" stroke-width="0.5"/>
<path d="M478.83 194.46V201.37" stroke="#ef5350" stroke-width="0.75"/>
<path d="M479.24 199.17V204.49" stroke="#26a69a" stroke-width="0.5"/>
<path d="M479.24 199.79V201.37" stroke="#26a69a" stroke-width="0.75"/>
<path d="M479.64 197.6V210.48M480.05 202.3V213.18" stroke="#ef5350" stroke-width="0.5"/>
<path d="M479.64 199.79V204.71M480.05 203.71V211.57" stroke="#ef5350" stroke-width="0.75"/>
<path d="M480.45 204.62V213.31" stroke="#26a69a" stroke-width="0.5"/>
<path d="M480.45 205.29V211.57" stroke="#26a69a" stroke-width="0.75"/>
<path d="M480.86 204.41V214.18M481.26 206.66V211.97" stroke="#ef5350" stroke-width="0.5"/>
<path d="M480.86 205.29V208.35M481.26 207.35V209.95" stroke="#ef5350" stroke-width="0.75"/>
<path d="M481.67 206.48V210.9" stroke="#26a69a" stroke-width="0.5"/>
<path d="M481.67 208.95V209.95" stroke="#26a69a" stroke-width="0.75"/>
<path d="M482.07 208.42V225.1M482.48 212.51V219.06" stroke="#ef5350" stroke-width="0.5"/>
<path d="M482.07 208.95V213.41M482.48 212.41V217.96" stroke="#ef5350" stroke-width="0.75"/>
<path d="M482.88 210.79V219.67M483.29 206.78V215.79" stroke="#26a69a" stroke-width="0.5"/>
<path d="M482.88 213.8V217.96M483.29 210.12V214.8" stroke="#26a69a" stroke-width="0.75"/>
<path d="M483.69 206.23V216.57M484.1 209.29V224.47" stroke="#ef5350" stroke-width="0.5"/>
<path d="M483.69 210.12V212.51M484.1 211.51V219.3" stroke="#ef5350" stroke-width="0.75"/>
<path d="M484.5 215.07V222.26" stroke="#26a69a" stroke-width="0.5"/>
<path d="M484.5 217.03V219.3" stroke="#26a69a" stroke-width="0.75"/>
<path d="M484.91 215.25V225.21M485.32 216.46V227.17M485.72 219.98V229.16M486.13 223.32V243.92M486.53 234.84V255.4M486.94 245.72V283.8M487.34 243.8V260.76M487.75 254.8V267.86" stroke="#ef5350" stroke-width="0.5"/>
<path d="M484.91 217.03V220.65M485.32 219.65V223.94M485.72 222.94V227.99M486.13 226.99V240.24M486.53 239.24V250.53M486.94 249.53V256.41M487.34 255.41V258.24M487.75 257.24V262.22" stroke="#ef5350" stroke-width="0.75"/>
<path d="M488.15 256.83V262.45M488.56 249.49V262.35" stroke="#26a69a" stroke-width="0.5"/>
<path d="M488.15 259.62V262.22M488.56 254.86V260.62" stroke="#26a69a" stroke-width="0.75"/>
<path d="M488.96 253.2V259.53M489.37 254.82V260.89M489.77 254.51V264.57" stroke="#ef5350" stroke-width="0.5"/>
<path d="M488.96 254.86V259.11M489.37 258.11V260.45M489.77 259.45V261.65" stroke="#ef5350" stroke-width="0.75"/>
<path d="M490.18 260.19V264M490.58 255.96V264.08" stroke="#26a69a" stroke-width="0.5"/>
<path d="M490.18 260.23V261.65M490.58 258.05V261.23" stroke="#26a69a" stroke-width="0.75"/>
<path d="M490.99 256.14V260.45" stroke="#ef5350" stroke-width="0.5"/>
<path d="M490.99 258.05V260.61" stroke="#ef5350" stroke-width="0.75"/>
<path d="M491.39 256.15V261.4" stroke="#26a69a" stroke-width="0.5"/>
<path d="M491.39 257V260.61" stroke="#26a69a" stroke-width="0.75"/>
<path d="M491.8 253.49V273.29" stroke="#ef5350" stroke-width="0.5"/>
<path d="M491.8 257V265.32" stroke="#ef5350" stroke-width="0.75"/>
<path d="M492.2 263.85V265.36M492.61 260.53V265.84" stroke="#26a69a" stroke-width="0.5"/>
<path d="M492.2 264.08V265.32M492.61 261.41V265.08" stroke="#26a69a" stroke-width="0.75"/>
<path d="M493.01 258.44V273.3" stroke="#ef5350" stroke-width="0.5"/>
<path d="M493.01 261.41V269.68" stroke="#ef5350" stroke-width="0.75"/>
<path d="M493.42 265.26V273.57M493.82 251.77V273.55" stroke="#26a69a" stroke-width="0.5"/>
<path d="M493.42 266.36V269.68M493.82 258.74V267.36" stroke="#26a69a" stroke-width="0.75"/>
<path d="M494.23 240V271.46" stroke="#ef5350" stroke-width="0.5"/>
<path d="M494.23 258.74V267.24" stroke="#ef5350" stroke-width="0.75"/>
<path d="M494.63 259.71V273.06" stroke="#26a69a" stroke-width="0.5"/>
<path d="M494.63 262.59V267.24" stroke="#26a69a" stroke-width="0.75"/>
<path d="M495.04 260.75V266.84" stroke="#ef5350" stroke-width="0.5"/>
<path d="M495.04 262.59V265.13" stroke="#ef5350" stroke-width="0.75"/>
<path d="M495.45 251.88V269.19" stroke="#26a69a" stroke-width="0.5"/>
<path d="M495.45 255.17V265.13" stroke="#26a69a" stroke-width="0.75"/>
<path d="M495.85 251.24V262.25M496.26 255.86V262.26" stroke="#ef5350" stroke-width="0.5"/>
<path d="M495.85 255.17V260.44M496.26 259.44V261.35" stroke="#ef5350" stroke-width="0.75"/>
<path d="M166.4 450V505.5" stroke="#26a69a" stroke-width="0.9"/>
<path d="M167.7 458V481" stroke="#ef5350" stroke-width="0.5"/>
</g>
<rect x="878.5" y="0" width="53.5" height="550" fill="#fff"/>
<rect x="0" y="525.9" width="932" height="24.1" fill="#fff"/>
<path d="M0 525.9H932" stroke="#9598a1" stroke-width="1.5" fill="none"/>
<path d="M878.5 0V550" stroke="#81848f" stroke-width="1.2" fill="none"/>
<g font-family="Liberation Sans, sans-serif" font-size="10.6" fill="#5d606b">
<text x="885.3" y="48.3" textLength="39.9" lengthAdjust="spacingAndGlyphs">0.025000</text>
<text x="885.3" y="84.6" textLength="39.9" lengthAdjust="spacingAndGlyphs">0.017000</text>
<text x="885.3" y="117.7" textLength="39.9" lengthAdjust="spacingAndGlyphs">0.012000</text>
<text x="885.3" y="145.2" textLength="39.9" lengthAdjust="spacingAndGlyphs">0.009000</text>
<text x="885.3" y="176.3" textLength="39.9" lengthAdjust="spacingAndGlyphs">0.006500</text>
<text x="885.3" y="211.2" textLength="39.9" lengthAdjust="spacingAndGlyphs">0.004500</text>
<text x="885.3" y="338" textLength="39.9" lengthAdjust="spacingAndGlyphs">0.001200</text>
<text x="885.3" y="364.7" textLength="39.9" lengthAdjust="spacingAndGlyphs">0.000900</text>
<text x="885.3" y="395.3" textLength="39.9" lengthAdjust="spacingAndGlyphs">0.000650</text>
<text x="885.3" y="430.3" textLength="39.9" lengthAdjust="spacingAndGlyphs">0.000450</text>
<text x="885.3" y="460" textLength="39.9" lengthAdjust="spacingAndGlyphs">0.000330</text>
<text x="885.3" y="489.7" textLength="39.9" lengthAdjust="spacingAndGlyphs">0.000240</text>
<text x="885.3" y="517.8" textLength="39.9" lengthAdjust="spacingAndGlyphs">0.000180</text>
<text x="883.4" y="14.4" textLength="21.8" lengthAdjust="spacingAndGlyphs">USDT</text>
</g>
<rect x="878" y="237.6" width="51.3" height="15.4" rx="1.2" fill="#ff9800"/>
<rect x="878" y="281" width="51.3" height="14.9" rx="1.2" fill="#ff9800"/>
<rect x="878" y="299.3" width="51.3" height="14.9" rx="1.2" fill="#ff9800"/>
<rect x="878" y="332.2" width="51.3" height="15.2" rx="1.2" fill="#ff9800"/>
<rect x="878" y="253" width="51.3" height="28" rx="1.2" fill="#26a69a"/>
<g font-family="Liberation Sans, sans-serif" font-size="10.6" fill="#2b1d05">
<text x="885.3" y="249.15" textLength="39.9" lengthAdjust="spacingAndGlyphs">0.002623</text>
<text x="885.3" y="292.35" textLength="39.9" lengthAdjust="spacingAndGlyphs">0.002212</text>
<text x="885.3" y="310.65" textLength="39.9" lengthAdjust="spacingAndGlyphs">0.001595</text>
<text x="885.3" y="343.65" textLength="39.9" lengthAdjust="spacingAndGlyphs">0.001126</text>
</g>
<g font-family="Liberation Sans, sans-serif" font-size="10.6" fill="#fff">
<text x="885.3" y="265.3" textLength="39.9" lengthAdjust="spacingAndGlyphs">0.002595</text>
<text x="886" y="278.2" textLength="37.6" lengthAdjust="spacingAndGlyphs" fill="#d6f1ed">11:27:49</text>
</g>
<text font-family="Liberation Sans, sans-serif" font-size="10" x="5.5" y="540.9" textLength="16" lengthAdjust="spacingAndGlyphs" fill="#63666f">Mar</text>
<text font-family="Liberation Sans, sans-serif" font-size="10" x="67" y="540.9" textLength="16.2" lengthAdjust="spacingAndGlyphs" fill="#63666f">Ağu</text>
<text font-family="Liberation Sans, sans-serif" font-size="10" x="126" y="540.9" textLength="22.4" lengthAdjust="spacingAndGlyphs" fill="#43464f" font-weight="bold">2020</text>
<text font-family="Liberation Sans, sans-serif" font-size="10" x="190.6" y="540.9" textLength="16.2" lengthAdjust="spacingAndGlyphs" fill="#63666f">Haz</text>
<text font-family="Liberation Sans, sans-serif" font-size="10" x="274.4" y="540.9" textLength="21.6" lengthAdjust="spacingAndGlyphs" fill="#43464f" font-weight="bold">2021</text>
<text font-family="Liberation Sans, sans-serif" font-size="10" x="350.2" y="540.9" textLength="18.2" lengthAdjust="spacingAndGlyphs" fill="#63666f">Tem</text>
<text font-family="Liberation Sans, sans-serif" font-size="10" x="423" y="540.9" textLength="22.4" lengthAdjust="spacingAndGlyphs" fill="#43464f" font-weight="bold">2022</text>
<text font-family="Liberation Sans, sans-serif" font-size="10" x="498.3" y="540.9" textLength="18.2" lengthAdjust="spacingAndGlyphs" fill="#63666f">Tem</text>
<text font-family="Liberation Sans, sans-serif" font-size="10" x="570.6" y="540.9" textLength="22.4" lengthAdjust="spacingAndGlyphs" fill="#43464f" font-weight="bold">2023</text>
<text font-family="Liberation Sans, sans-serif" font-size="10" x="646.1" y="540.9" textLength="18.2" lengthAdjust="spacingAndGlyphs" fill="#63666f">Tem</text>
<g font-family="Liberation Sans, sans-serif" font-size="8.7" font-weight="bold" fill="#585b65" stroke="#585b65" stroke-width="0.2">
<text x="5.15" y="14.2" textLength="15.75" lengthAdjust="spacingAndGlyphs">Holo</text>
<text x="24.6" y="14.2" textLength="3.3" lengthAdjust="spacingAndGlyphs">/</text>
<text x="29.6" y="14.2" textLength="34.8" lengthAdjust="spacingAndGlyphs">TetherUS,</text>
<text x="68.2" y="14.2" textLength="9.7" lengthAdjust="spacingAndGlyphs">1G,</text>
<text x="82.1" y="14.2" textLength="30.9" lengthAdjust="spacingAndGlyphs">BINANCE</text>
</g>
</svg>
</body></html>
